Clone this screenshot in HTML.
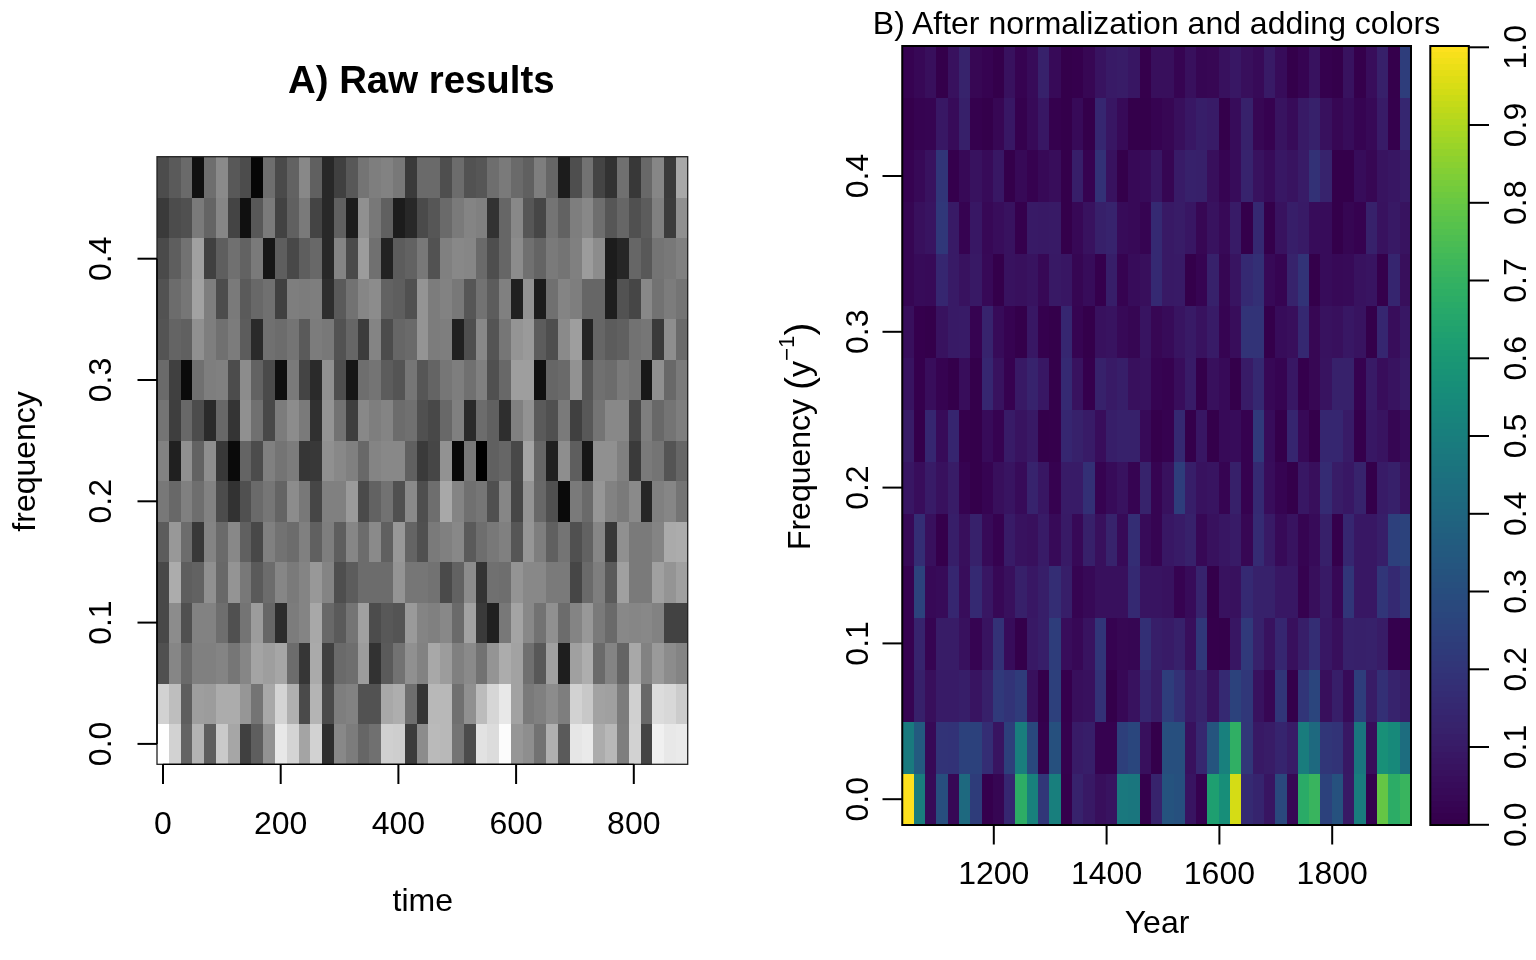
<!DOCTYPE html>
<html lang="en"><head><meta charset="utf-8"><title>Spectrogram panels</title>
<style>html,body{margin:0;padding:0;background:#fff}body{width:1536px;height:960px;overflow:hidden}svg{display:block}text{font-family:"Liberation Sans",Arial,Helvetica,sans-serif;fill:#000}</style>
</head><body>
<svg width="1536" height="960" viewBox="0 0 1536 960">
<rect width="1536" height="960" fill="#fff"/>
<g shape-rendering="crispEdges">
<rect x="157.10" y="157.10" width="12.39" height="41.11" fill="#4c4c4c"/>
<rect x="168.89" y="157.10" width="12.39" height="41.11" fill="#5a5a5a"/>
<rect x="180.69" y="157.10" width="12.39" height="41.11" fill="#6a6a6a"/>
<rect x="192.48" y="157.10" width="12.39" height="41.11" fill="#101010"/>
<rect x="204.27" y="157.10" width="12.39" height="41.11" fill="#6e6e6e"/>
<rect x="216.07" y="157.10" width="12.39" height="41.11" fill="#8a8a8a"/>
<rect x="227.86" y="157.10" width="12.39" height="41.11" fill="#585858"/>
<rect x="239.65" y="157.10" width="12.39" height="41.11" fill="#4c4c4c"/>
<rect x="251.45" y="157.10" width="12.39" height="41.11" fill="#060606"/>
<rect x="263.24" y="157.10" width="12.39" height="41.11" fill="#6e6e6e"/>
<rect x="275.03" y="157.10" width="12.39" height="41.11" fill="#4a4a4a"/>
<rect x="286.83" y="157.10" width="12.39" height="41.11" fill="#626262"/>
<rect x="298.62" y="157.10" width="12.39" height="41.11" fill="#888888"/>
<rect x="310.41" y="157.10" width="12.39" height="41.11" fill="#606060"/>
<rect x="322.21" y="157.10" width="12.39" height="41.11" fill="#282828"/>
<rect x="334.00" y="157.10" width="12.39" height="41.11" fill="#404040"/>
<rect x="345.79" y="157.10" width="12.39" height="41.11" fill="#585858"/>
<rect x="357.59" y="157.10" width="12.39" height="41.11" fill="#747474"/>
<rect x="369.38" y="157.10" width="12.39" height="41.11" fill="#7e7e7e"/>
<rect x="381.17" y="157.10" width="12.39" height="41.11" fill="#828282"/>
<rect x="392.97" y="157.10" width="12.39" height="41.11" fill="#787878"/>
<rect x="404.76" y="157.10" width="12.39" height="41.11" fill="#3a3a3a"/>
<rect x="416.55" y="157.10" width="12.39" height="41.11" fill="#6a6a6a"/>
<rect x="428.35" y="157.10" width="12.39" height="41.11" fill="#6a6a6a"/>
<rect x="440.14" y="157.10" width="12.39" height="41.11" fill="#4e4e4e"/>
<rect x="451.93" y="157.10" width="12.39" height="41.11" fill="#6c6c6c"/>
<rect x="463.73" y="157.10" width="12.39" height="41.11" fill="#525252"/>
<rect x="475.52" y="157.10" width="12.39" height="41.11" fill="#565656"/>
<rect x="487.31" y="157.10" width="12.39" height="41.11" fill="#6e6e6e"/>
<rect x="499.11" y="157.10" width="12.39" height="41.11" fill="#7a7a7a"/>
<rect x="510.90" y="157.10" width="12.39" height="41.11" fill="#6a6a6a"/>
<rect x="522.69" y="157.10" width="12.39" height="41.11" fill="#606060"/>
<rect x="534.49" y="157.10" width="12.39" height="41.11" fill="#7e7e7e"/>
<rect x="546.28" y="157.10" width="12.39" height="41.11" fill="#666666"/>
<rect x="558.07" y="157.10" width="12.39" height="41.11" fill="#1c1c1c"/>
<rect x="569.87" y="157.10" width="12.39" height="41.11" fill="#4e4e4e"/>
<rect x="581.66" y="157.10" width="12.39" height="41.11" fill="#727272"/>
<rect x="593.45" y="157.10" width="12.39" height="41.11" fill="#444444"/>
<rect x="605.25" y="157.10" width="12.39" height="41.11" fill="#323232"/>
<rect x="617.04" y="157.10" width="12.39" height="41.11" fill="#707070"/>
<rect x="628.83" y="157.10" width="12.39" height="41.11" fill="#383838"/>
<rect x="640.63" y="157.10" width="12.39" height="41.11" fill="#686868"/>
<rect x="652.42" y="157.10" width="12.39" height="41.11" fill="#868686"/>
<rect x="664.21" y="157.10" width="12.39" height="41.11" fill="#3a3a3a"/>
<rect x="676.01" y="157.10" width="12.39" height="41.11" fill="#a8a8a8"/>
<rect x="157.10" y="197.61" width="12.39" height="41.11" fill="#3a3a3a"/>
<rect x="168.89" y="197.61" width="12.39" height="41.11" fill="#4c4c4c"/>
<rect x="180.69" y="197.61" width="12.39" height="41.11" fill="#505050"/>
<rect x="192.48" y="197.61" width="12.39" height="41.11" fill="#7a7a7a"/>
<rect x="204.27" y="197.61" width="12.39" height="41.11" fill="#646464"/>
<rect x="216.07" y="197.61" width="12.39" height="41.11" fill="#868686"/>
<rect x="227.86" y="197.61" width="12.39" height="41.11" fill="#444444"/>
<rect x="239.65" y="197.61" width="12.39" height="41.11" fill="#101010"/>
<rect x="251.45" y="197.61" width="12.39" height="41.11" fill="#585858"/>
<rect x="263.24" y="197.61" width="12.39" height="41.11" fill="#7a7a7a"/>
<rect x="275.03" y="197.61" width="12.39" height="41.11" fill="#424242"/>
<rect x="286.83" y="197.61" width="12.39" height="41.11" fill="#606060"/>
<rect x="298.62" y="197.61" width="12.39" height="41.11" fill="#7a7a7a"/>
<rect x="310.41" y="197.61" width="12.39" height="41.11" fill="#444444"/>
<rect x="322.21" y="197.61" width="12.39" height="41.11" fill="#282828"/>
<rect x="334.00" y="197.61" width="12.39" height="41.11" fill="#606060"/>
<rect x="345.79" y="197.61" width="12.39" height="41.11" fill="#1c1c1c"/>
<rect x="357.59" y="197.61" width="12.39" height="41.11" fill="#909090"/>
<rect x="369.38" y="197.61" width="12.39" height="41.11" fill="#787878"/>
<rect x="381.17" y="197.61" width="12.39" height="41.11" fill="#606060"/>
<rect x="392.97" y="197.61" width="12.39" height="41.11" fill="#1c1c1c"/>
<rect x="404.76" y="197.61" width="12.39" height="41.11" fill="#282828"/>
<rect x="416.55" y="197.61" width="12.39" height="41.11" fill="#4a4a4a"/>
<rect x="428.35" y="197.61" width="12.39" height="41.11" fill="#565656"/>
<rect x="440.14" y="197.61" width="12.39" height="41.11" fill="#6a6a6a"/>
<rect x="451.93" y="197.61" width="12.39" height="41.11" fill="#7a7a7a"/>
<rect x="463.73" y="197.61" width="12.39" height="41.11" fill="#848484"/>
<rect x="475.52" y="197.61" width="12.39" height="41.11" fill="#808080"/>
<rect x="487.31" y="197.61" width="12.39" height="41.11" fill="#323232"/>
<rect x="499.11" y="197.61" width="12.39" height="41.11" fill="#666666"/>
<rect x="510.90" y="197.61" width="12.39" height="41.11" fill="#888888"/>
<rect x="522.69" y="197.61" width="12.39" height="41.11" fill="#565656"/>
<rect x="534.49" y="197.61" width="12.39" height="41.11" fill="#464646"/>
<rect x="546.28" y="197.61" width="12.39" height="41.11" fill="#747474"/>
<rect x="558.07" y="197.61" width="12.39" height="41.11" fill="#626262"/>
<rect x="569.87" y="197.61" width="12.39" height="41.11" fill="#7e7e7e"/>
<rect x="581.66" y="197.61" width="12.39" height="41.11" fill="#888888"/>
<rect x="593.45" y="197.61" width="12.39" height="41.11" fill="#6e6e6e"/>
<rect x="605.25" y="197.61" width="12.39" height="41.11" fill="#565656"/>
<rect x="617.04" y="197.61" width="12.39" height="41.11" fill="#666666"/>
<rect x="628.83" y="197.61" width="12.39" height="41.11" fill="#505050"/>
<rect x="640.63" y="197.61" width="12.39" height="41.11" fill="#5c5c5c"/>
<rect x="652.42" y="197.61" width="12.39" height="41.11" fill="#808080"/>
<rect x="664.21" y="197.61" width="12.39" height="41.11" fill="#3c3c3c"/>
<rect x="676.01" y="197.61" width="12.39" height="41.11" fill="#909090"/>
<rect x="157.10" y="238.11" width="12.39" height="41.11" fill="#4a4a4a"/>
<rect x="168.89" y="238.11" width="12.39" height="41.11" fill="#5e5e5e"/>
<rect x="180.69" y="238.11" width="12.39" height="41.11" fill="#727272"/>
<rect x="192.48" y="238.11" width="12.39" height="41.11" fill="#a0a0a0"/>
<rect x="204.27" y="238.11" width="12.39" height="41.11" fill="#404040"/>
<rect x="216.07" y="238.11" width="12.39" height="41.11" fill="#5e5e5e"/>
<rect x="227.86" y="238.11" width="12.39" height="41.11" fill="#707070"/>
<rect x="239.65" y="238.11" width="12.39" height="41.11" fill="#626262"/>
<rect x="251.45" y="238.11" width="12.39" height="41.11" fill="#7a7a7a"/>
<rect x="263.24" y="238.11" width="12.39" height="41.11" fill="#161616"/>
<rect x="275.03" y="238.11" width="12.39" height="41.11" fill="#5e5e5e"/>
<rect x="286.83" y="238.11" width="12.39" height="41.11" fill="#484848"/>
<rect x="298.62" y="238.11" width="12.39" height="41.11" fill="#5e5e5e"/>
<rect x="310.41" y="238.11" width="12.39" height="41.11" fill="#686868"/>
<rect x="322.21" y="238.11" width="12.39" height="41.11" fill="#282828"/>
<rect x="334.00" y="238.11" width="12.39" height="41.11" fill="#848484"/>
<rect x="345.79" y="238.11" width="12.39" height="41.11" fill="#4a4a4a"/>
<rect x="357.59" y="238.11" width="12.39" height="41.11" fill="#9c9c9c"/>
<rect x="369.38" y="238.11" width="12.39" height="41.11" fill="#707070"/>
<rect x="381.17" y="238.11" width="12.39" height="41.11" fill="#222222"/>
<rect x="392.97" y="238.11" width="12.39" height="41.11" fill="#5c5c5c"/>
<rect x="404.76" y="238.11" width="12.39" height="41.11" fill="#626262"/>
<rect x="416.55" y="238.11" width="12.39" height="41.11" fill="#787878"/>
<rect x="428.35" y="238.11" width="12.39" height="41.11" fill="#525252"/>
<rect x="440.14" y="238.11" width="12.39" height="41.11" fill="#808080"/>
<rect x="451.93" y="238.11" width="12.39" height="41.11" fill="#888888"/>
<rect x="463.73" y="238.11" width="12.39" height="41.11" fill="#868686"/>
<rect x="475.52" y="238.11" width="12.39" height="41.11" fill="#6a6a6a"/>
<rect x="487.31" y="238.11" width="12.39" height="41.11" fill="#4e4e4e"/>
<rect x="499.11" y="238.11" width="12.39" height="41.11" fill="#666666"/>
<rect x="510.90" y="238.11" width="12.39" height="41.11" fill="#8c8c8c"/>
<rect x="522.69" y="238.11" width="12.39" height="41.11" fill="#707070"/>
<rect x="534.49" y="238.11" width="12.39" height="41.11" fill="#646464"/>
<rect x="546.28" y="238.11" width="12.39" height="41.11" fill="#7a7a7a"/>
<rect x="558.07" y="238.11" width="12.39" height="41.11" fill="#747474"/>
<rect x="569.87" y="238.11" width="12.39" height="41.11" fill="#808080"/>
<rect x="581.66" y="238.11" width="12.39" height="41.11" fill="#9c9c9c"/>
<rect x="593.45" y="238.11" width="12.39" height="41.11" fill="#8c8c8c"/>
<rect x="605.25" y="238.11" width="12.39" height="41.11" fill="#1c1c1c"/>
<rect x="617.04" y="238.11" width="12.39" height="41.11" fill="#262626"/>
<rect x="628.83" y="238.11" width="12.39" height="41.11" fill="#666666"/>
<rect x="640.63" y="238.11" width="12.39" height="41.11" fill="#585858"/>
<rect x="652.42" y="238.11" width="12.39" height="41.11" fill="#747474"/>
<rect x="664.21" y="238.11" width="12.39" height="41.11" fill="#787878"/>
<rect x="676.01" y="238.11" width="12.39" height="41.11" fill="#808080"/>
<rect x="157.10" y="278.62" width="12.39" height="41.11" fill="#525252"/>
<rect x="168.89" y="278.62" width="12.39" height="41.11" fill="#6c6c6c"/>
<rect x="180.69" y="278.62" width="12.39" height="41.11" fill="#767676"/>
<rect x="192.48" y="278.62" width="12.39" height="41.11" fill="#a2a2a2"/>
<rect x="204.27" y="278.62" width="12.39" height="41.11" fill="#7e7e7e"/>
<rect x="216.07" y="278.62" width="12.39" height="41.11" fill="#4c4c4c"/>
<rect x="227.86" y="278.62" width="12.39" height="41.11" fill="#7a7a7a"/>
<rect x="239.65" y="278.62" width="12.39" height="41.11" fill="#5a5a5a"/>
<rect x="251.45" y="278.62" width="12.39" height="41.11" fill="#686868"/>
<rect x="263.24" y="278.62" width="12.39" height="41.11" fill="#707070"/>
<rect x="275.03" y="278.62" width="12.39" height="41.11" fill="#404040"/>
<rect x="286.83" y="278.62" width="12.39" height="41.11" fill="#7e7e7e"/>
<rect x="298.62" y="278.62" width="12.39" height="41.11" fill="#7c7c7c"/>
<rect x="310.41" y="278.62" width="12.39" height="41.11" fill="#7e7e7e"/>
<rect x="322.21" y="278.62" width="12.39" height="41.11" fill="#2e2e2e"/>
<rect x="334.00" y="278.62" width="12.39" height="41.11" fill="#5a5a5a"/>
<rect x="345.79" y="278.62" width="12.39" height="41.11" fill="#727272"/>
<rect x="357.59" y="278.62" width="12.39" height="41.11" fill="#868686"/>
<rect x="369.38" y="278.62" width="12.39" height="41.11" fill="#8c8c8c"/>
<rect x="381.17" y="278.62" width="12.39" height="41.11" fill="#626262"/>
<rect x="392.97" y="278.62" width="12.39" height="41.11" fill="#5e5e5e"/>
<rect x="404.76" y="278.62" width="12.39" height="41.11" fill="#505050"/>
<rect x="416.55" y="278.62" width="12.39" height="41.11" fill="#949494"/>
<rect x="428.35" y="278.62" width="12.39" height="41.11" fill="#7c7c7c"/>
<rect x="440.14" y="278.62" width="12.39" height="41.11" fill="#828282"/>
<rect x="451.93" y="278.62" width="12.39" height="41.11" fill="#787878"/>
<rect x="463.73" y="278.62" width="12.39" height="41.11" fill="#565656"/>
<rect x="475.52" y="278.62" width="12.39" height="41.11" fill="#727272"/>
<rect x="487.31" y="278.62" width="12.39" height="41.11" fill="#5c5c5c"/>
<rect x="499.11" y="278.62" width="12.39" height="41.11" fill="#808080"/>
<rect x="510.90" y="278.62" width="12.39" height="41.11" fill="#202020"/>
<rect x="522.69" y="278.62" width="12.39" height="41.11" fill="#929292"/>
<rect x="534.49" y="278.62" width="12.39" height="41.11" fill="#1c1c1c"/>
<rect x="546.28" y="278.62" width="12.39" height="41.11" fill="#707070"/>
<rect x="558.07" y="278.62" width="12.39" height="41.11" fill="#848484"/>
<rect x="569.87" y="278.62" width="12.39" height="41.11" fill="#7e7e7e"/>
<rect x="581.66" y="278.62" width="12.39" height="41.11" fill="#666666"/>
<rect x="593.45" y="278.62" width="12.39" height="41.11" fill="#666666"/>
<rect x="605.25" y="278.62" width="12.39" height="41.11" fill="#1e1e1e"/>
<rect x="617.04" y="278.62" width="12.39" height="41.11" fill="#525252"/>
<rect x="628.83" y="278.62" width="12.39" height="41.11" fill="#464646"/>
<rect x="640.63" y="278.62" width="12.39" height="41.11" fill="#888888"/>
<rect x="652.42" y="278.62" width="12.39" height="41.11" fill="#727272"/>
<rect x="664.21" y="278.62" width="12.39" height="41.11" fill="#7c7c7c"/>
<rect x="676.01" y="278.62" width="12.39" height="41.11" fill="#747474"/>
<rect x="157.10" y="319.13" width="12.39" height="41.11" fill="#545454"/>
<rect x="168.89" y="319.13" width="12.39" height="41.11" fill="#646464"/>
<rect x="180.69" y="319.13" width="12.39" height="41.11" fill="#606060"/>
<rect x="192.48" y="319.13" width="12.39" height="41.11" fill="#909090"/>
<rect x="204.27" y="319.13" width="12.39" height="41.11" fill="#7e7e7e"/>
<rect x="216.07" y="319.13" width="12.39" height="41.11" fill="#707070"/>
<rect x="227.86" y="319.13" width="12.39" height="41.11" fill="#7c7c7c"/>
<rect x="239.65" y="319.13" width="12.39" height="41.11" fill="#5c5c5c"/>
<rect x="251.45" y="319.13" width="12.39" height="41.11" fill="#2a2a2a"/>
<rect x="263.24" y="319.13" width="12.39" height="41.11" fill="#707070"/>
<rect x="275.03" y="319.13" width="12.39" height="41.11" fill="#6c6c6c"/>
<rect x="286.83" y="319.13" width="12.39" height="41.11" fill="#747474"/>
<rect x="298.62" y="319.13" width="12.39" height="41.11" fill="#5a5a5a"/>
<rect x="310.41" y="319.13" width="12.39" height="41.11" fill="#7c7c7c"/>
<rect x="322.21" y="319.13" width="12.39" height="41.11" fill="#787878"/>
<rect x="334.00" y="319.13" width="12.39" height="41.11" fill="#525252"/>
<rect x="345.79" y="319.13" width="12.39" height="41.11" fill="#666666"/>
<rect x="357.59" y="319.13" width="12.39" height="41.11" fill="#3c3c3c"/>
<rect x="369.38" y="319.13" width="12.39" height="41.11" fill="#848484"/>
<rect x="381.17" y="319.13" width="12.39" height="41.11" fill="#4c4c4c"/>
<rect x="392.97" y="319.13" width="12.39" height="41.11" fill="#666666"/>
<rect x="404.76" y="319.13" width="12.39" height="41.11" fill="#6a6a6a"/>
<rect x="416.55" y="319.13" width="12.39" height="41.11" fill="#949494"/>
<rect x="428.35" y="319.13" width="12.39" height="41.11" fill="#7c7c7c"/>
<rect x="440.14" y="319.13" width="12.39" height="41.11" fill="#7e7e7e"/>
<rect x="451.93" y="319.13" width="12.39" height="41.11" fill="#202020"/>
<rect x="463.73" y="319.13" width="12.39" height="41.11" fill="#4e4e4e"/>
<rect x="475.52" y="319.13" width="12.39" height="41.11" fill="#888888"/>
<rect x="487.31" y="319.13" width="12.39" height="41.11" fill="#545454"/>
<rect x="499.11" y="319.13" width="12.39" height="41.11" fill="#767676"/>
<rect x="510.90" y="319.13" width="12.39" height="41.11" fill="#949494"/>
<rect x="522.69" y="319.13" width="12.39" height="41.11" fill="#9a9a9a"/>
<rect x="534.49" y="319.13" width="12.39" height="41.11" fill="#5c5c5c"/>
<rect x="546.28" y="319.13" width="12.39" height="41.11" fill="#4e4e4e"/>
<rect x="558.07" y="319.13" width="12.39" height="41.11" fill="#8a8a8a"/>
<rect x="569.87" y="319.13" width="12.39" height="41.11" fill="#9e9e9e"/>
<rect x="581.66" y="319.13" width="12.39" height="41.11" fill="#242424"/>
<rect x="593.45" y="319.13" width="12.39" height="41.11" fill="#666666"/>
<rect x="605.25" y="319.13" width="12.39" height="41.11" fill="#5c5c5c"/>
<rect x="617.04" y="319.13" width="12.39" height="41.11" fill="#606060"/>
<rect x="628.83" y="319.13" width="12.39" height="41.11" fill="#727272"/>
<rect x="640.63" y="319.13" width="12.39" height="41.11" fill="#767676"/>
<rect x="652.42" y="319.13" width="12.39" height="41.11" fill="#3a3a3a"/>
<rect x="664.21" y="319.13" width="12.39" height="41.11" fill="#8e8e8e"/>
<rect x="676.01" y="319.13" width="12.39" height="41.11" fill="#6a6a6a"/>
<rect x="157.10" y="359.63" width="12.39" height="41.11" fill="#6a6a6a"/>
<rect x="168.89" y="359.63" width="12.39" height="41.11" fill="#404040"/>
<rect x="180.69" y="359.63" width="12.39" height="41.11" fill="#0a0a0a"/>
<rect x="192.48" y="359.63" width="12.39" height="41.11" fill="#707070"/>
<rect x="204.27" y="359.63" width="12.39" height="41.11" fill="#7e7e7e"/>
<rect x="216.07" y="359.63" width="12.39" height="41.11" fill="#808080"/>
<rect x="227.86" y="359.63" width="12.39" height="41.11" fill="#4c4c4c"/>
<rect x="239.65" y="359.63" width="12.39" height="41.11" fill="#8c8c8c"/>
<rect x="251.45" y="359.63" width="12.39" height="41.11" fill="#626262"/>
<rect x="263.24" y="359.63" width="12.39" height="41.11" fill="#4a4a4a"/>
<rect x="275.03" y="359.63" width="12.39" height="41.11" fill="#0e0e0e"/>
<rect x="286.83" y="359.63" width="12.39" height="41.11" fill="#7a7a7a"/>
<rect x="298.62" y="359.63" width="12.39" height="41.11" fill="#444444"/>
<rect x="310.41" y="359.63" width="12.39" height="41.11" fill="#2a2a2a"/>
<rect x="322.21" y="359.63" width="12.39" height="41.11" fill="#909090"/>
<rect x="334.00" y="359.63" width="12.39" height="41.11" fill="#4e4e4e"/>
<rect x="345.79" y="359.63" width="12.39" height="41.11" fill="#161616"/>
<rect x="357.59" y="359.63" width="12.39" height="41.11" fill="#6e6e6e"/>
<rect x="369.38" y="359.63" width="12.39" height="41.11" fill="#747474"/>
<rect x="381.17" y="359.63" width="12.39" height="41.11" fill="#5c5c5c"/>
<rect x="392.97" y="359.63" width="12.39" height="41.11" fill="#545454"/>
<rect x="404.76" y="359.63" width="12.39" height="41.11" fill="#767676"/>
<rect x="416.55" y="359.63" width="12.39" height="41.11" fill="#565656"/>
<rect x="428.35" y="359.63" width="12.39" height="41.11" fill="#646464"/>
<rect x="440.14" y="359.63" width="12.39" height="41.11" fill="#767676"/>
<rect x="451.93" y="359.63" width="12.39" height="41.11" fill="#7e7e7e"/>
<rect x="463.73" y="359.63" width="12.39" height="41.11" fill="#707070"/>
<rect x="475.52" y="359.63" width="12.39" height="41.11" fill="#808080"/>
<rect x="487.31" y="359.63" width="12.39" height="41.11" fill="#505050"/>
<rect x="499.11" y="359.63" width="12.39" height="41.11" fill="#686868"/>
<rect x="510.90" y="359.63" width="12.39" height="41.11" fill="#9e9e9e"/>
<rect x="522.69" y="359.63" width="12.39" height="41.11" fill="#9e9e9e"/>
<rect x="534.49" y="359.63" width="12.39" height="41.11" fill="#101010"/>
<rect x="546.28" y="359.63" width="12.39" height="41.11" fill="#666666"/>
<rect x="558.07" y="359.63" width="12.39" height="41.11" fill="#6a6a6a"/>
<rect x="569.87" y="359.63" width="12.39" height="41.11" fill="#929292"/>
<rect x="581.66" y="359.63" width="12.39" height="41.11" fill="#565656"/>
<rect x="593.45" y="359.63" width="12.39" height="41.11" fill="#707070"/>
<rect x="605.25" y="359.63" width="12.39" height="41.11" fill="#6c6c6c"/>
<rect x="617.04" y="359.63" width="12.39" height="41.11" fill="#7a7a7a"/>
<rect x="628.83" y="359.63" width="12.39" height="41.11" fill="#747474"/>
<rect x="640.63" y="359.63" width="12.39" height="41.11" fill="#181818"/>
<rect x="652.42" y="359.63" width="12.39" height="41.11" fill="#909090"/>
<rect x="664.21" y="359.63" width="12.39" height="41.11" fill="#686868"/>
<rect x="676.01" y="359.63" width="12.39" height="41.11" fill="#7a7a7a"/>
<rect x="157.10" y="400.14" width="12.39" height="41.11" fill="#747474"/>
<rect x="168.89" y="400.14" width="12.39" height="41.11" fill="#3e3e3e"/>
<rect x="180.69" y="400.14" width="12.39" height="41.11" fill="#686868"/>
<rect x="192.48" y="400.14" width="12.39" height="41.11" fill="#4c4c4c"/>
<rect x="204.27" y="400.14" width="12.39" height="41.11" fill="#2a2a2a"/>
<rect x="216.07" y="400.14" width="12.39" height="41.11" fill="#686868"/>
<rect x="227.86" y="400.14" width="12.39" height="41.11" fill="#343434"/>
<rect x="239.65" y="400.14" width="12.39" height="41.11" fill="#909090"/>
<rect x="251.45" y="400.14" width="12.39" height="41.11" fill="#707070"/>
<rect x="263.24" y="400.14" width="12.39" height="41.11" fill="#484848"/>
<rect x="275.03" y="400.14" width="12.39" height="41.11" fill="#7c7c7c"/>
<rect x="286.83" y="400.14" width="12.39" height="41.11" fill="#8c8c8c"/>
<rect x="298.62" y="400.14" width="12.39" height="41.11" fill="#7a7a7a"/>
<rect x="310.41" y="400.14" width="12.39" height="41.11" fill="#303030"/>
<rect x="322.21" y="400.14" width="12.39" height="41.11" fill="#949494"/>
<rect x="334.00" y="400.14" width="12.39" height="41.11" fill="#727272"/>
<rect x="345.79" y="400.14" width="12.39" height="41.11" fill="#3e3e3e"/>
<rect x="357.59" y="400.14" width="12.39" height="41.11" fill="#888888"/>
<rect x="369.38" y="400.14" width="12.39" height="41.11" fill="#7e7e7e"/>
<rect x="381.17" y="400.14" width="12.39" height="41.11" fill="#848484"/>
<rect x="392.97" y="400.14" width="12.39" height="41.11" fill="#6c6c6c"/>
<rect x="404.76" y="400.14" width="12.39" height="41.11" fill="#707070"/>
<rect x="416.55" y="400.14" width="12.39" height="41.11" fill="#505050"/>
<rect x="428.35" y="400.14" width="12.39" height="41.11" fill="#484848"/>
<rect x="440.14" y="400.14" width="12.39" height="41.11" fill="#686868"/>
<rect x="451.93" y="400.14" width="12.39" height="41.11" fill="#808080"/>
<rect x="463.73" y="400.14" width="12.39" height="41.11" fill="#2a2a2a"/>
<rect x="475.52" y="400.14" width="12.39" height="41.11" fill="#6c6c6c"/>
<rect x="487.31" y="400.14" width="12.39" height="41.11" fill="#606060"/>
<rect x="499.11" y="400.14" width="12.39" height="41.11" fill="#2e2e2e"/>
<rect x="510.90" y="400.14" width="12.39" height="41.11" fill="#808080"/>
<rect x="522.69" y="400.14" width="12.39" height="41.11" fill="#929292"/>
<rect x="534.49" y="400.14" width="12.39" height="41.11" fill="#5a5a5a"/>
<rect x="546.28" y="400.14" width="12.39" height="41.11" fill="#505050"/>
<rect x="558.07" y="400.14" width="12.39" height="41.11" fill="#7a7a7a"/>
<rect x="569.87" y="400.14" width="12.39" height="41.11" fill="#404040"/>
<rect x="581.66" y="400.14" width="12.39" height="41.11" fill="#585858"/>
<rect x="593.45" y="400.14" width="12.39" height="41.11" fill="#747474"/>
<rect x="605.25" y="400.14" width="12.39" height="41.11" fill="#888888"/>
<rect x="617.04" y="400.14" width="12.39" height="41.11" fill="#888888"/>
<rect x="628.83" y="400.14" width="12.39" height="41.11" fill="#484848"/>
<rect x="640.63" y="400.14" width="12.39" height="41.11" fill="#7e7e7e"/>
<rect x="652.42" y="400.14" width="12.39" height="41.11" fill="#686868"/>
<rect x="664.21" y="400.14" width="12.39" height="41.11" fill="#747474"/>
<rect x="676.01" y="400.14" width="12.39" height="41.11" fill="#7e7e7e"/>
<rect x="157.10" y="440.65" width="12.39" height="41.11" fill="#828282"/>
<rect x="168.89" y="440.65" width="12.39" height="41.11" fill="#202020"/>
<rect x="180.69" y="440.65" width="12.39" height="41.11" fill="#909090"/>
<rect x="192.48" y="440.65" width="12.39" height="41.11" fill="#626262"/>
<rect x="204.27" y="440.65" width="12.39" height="41.11" fill="#8e8e8e"/>
<rect x="216.07" y="440.65" width="12.39" height="41.11" fill="#383838"/>
<rect x="227.86" y="440.65" width="12.39" height="41.11" fill="#0a0a0a"/>
<rect x="239.65" y="440.65" width="12.39" height="41.11" fill="#646464"/>
<rect x="251.45" y="440.65" width="12.39" height="41.11" fill="#4c4c4c"/>
<rect x="263.24" y="440.65" width="12.39" height="41.11" fill="#808080"/>
<rect x="275.03" y="440.65" width="12.39" height="41.11" fill="#747474"/>
<rect x="286.83" y="440.65" width="12.39" height="41.11" fill="#7c7c7c"/>
<rect x="298.62" y="440.65" width="12.39" height="41.11" fill="#363636"/>
<rect x="310.41" y="440.65" width="12.39" height="41.11" fill="#383838"/>
<rect x="322.21" y="440.65" width="12.39" height="41.11" fill="#909090"/>
<rect x="334.00" y="440.65" width="12.39" height="41.11" fill="#888888"/>
<rect x="345.79" y="440.65" width="12.39" height="41.11" fill="#808080"/>
<rect x="357.59" y="440.65" width="12.39" height="41.11" fill="#686868"/>
<rect x="369.38" y="440.65" width="12.39" height="41.11" fill="#848484"/>
<rect x="381.17" y="440.65" width="12.39" height="41.11" fill="#888888"/>
<rect x="392.97" y="440.65" width="12.39" height="41.11" fill="#888888"/>
<rect x="404.76" y="440.65" width="12.39" height="41.11" fill="#606060"/>
<rect x="416.55" y="440.65" width="12.39" height="41.11" fill="#3a3a3a"/>
<rect x="428.35" y="440.65" width="12.39" height="41.11" fill="#464646"/>
<rect x="440.14" y="440.65" width="12.39" height="41.11" fill="#929292"/>
<rect x="451.93" y="440.65" width="12.39" height="41.11" fill="#080808"/>
<rect x="463.73" y="440.65" width="12.39" height="41.11" fill="#787878"/>
<rect x="475.52" y="440.65" width="12.39" height="41.11" fill="#000000"/>
<rect x="487.31" y="440.65" width="12.39" height="41.11" fill="#606060"/>
<rect x="499.11" y="440.65" width="12.39" height="41.11" fill="#666666"/>
<rect x="510.90" y="440.65" width="12.39" height="41.11" fill="#484848"/>
<rect x="522.69" y="440.65" width="12.39" height="41.11" fill="#a4a4a4"/>
<rect x="534.49" y="440.65" width="12.39" height="41.11" fill="#666666"/>
<rect x="546.28" y="440.65" width="12.39" height="41.11" fill="#202020"/>
<rect x="558.07" y="440.65" width="12.39" height="41.11" fill="#8e8e8e"/>
<rect x="569.87" y="440.65" width="12.39" height="41.11" fill="#5e5e5e"/>
<rect x="581.66" y="440.65" width="12.39" height="41.11" fill="#161616"/>
<rect x="593.45" y="440.65" width="12.39" height="41.11" fill="#909090"/>
<rect x="605.25" y="440.65" width="12.39" height="41.11" fill="#909090"/>
<rect x="617.04" y="440.65" width="12.39" height="41.11" fill="#808080"/>
<rect x="628.83" y="440.65" width="12.39" height="41.11" fill="#3a3a3a"/>
<rect x="640.63" y="440.65" width="12.39" height="41.11" fill="#7a7a7a"/>
<rect x="652.42" y="440.65" width="12.39" height="41.11" fill="#747474"/>
<rect x="664.21" y="440.65" width="12.39" height="41.11" fill="#545454"/>
<rect x="676.01" y="440.65" width="12.39" height="41.11" fill="#666666"/>
<rect x="157.10" y="481.15" width="12.39" height="41.11" fill="#787878"/>
<rect x="168.89" y="481.15" width="12.39" height="41.11" fill="#686868"/>
<rect x="180.69" y="481.15" width="12.39" height="41.11" fill="#808080"/>
<rect x="192.48" y="481.15" width="12.39" height="41.11" fill="#6e6e6e"/>
<rect x="204.27" y="481.15" width="12.39" height="41.11" fill="#828282"/>
<rect x="216.07" y="481.15" width="12.39" height="41.11" fill="#4c4c4c"/>
<rect x="227.86" y="481.15" width="12.39" height="41.11" fill="#323232"/>
<rect x="239.65" y="481.15" width="12.39" height="41.11" fill="#505050"/>
<rect x="251.45" y="481.15" width="12.39" height="41.11" fill="#6a6a6a"/>
<rect x="263.24" y="481.15" width="12.39" height="41.11" fill="#767676"/>
<rect x="275.03" y="481.15" width="12.39" height="41.11" fill="#646464"/>
<rect x="286.83" y="481.15" width="12.39" height="41.11" fill="#8c8c8c"/>
<rect x="298.62" y="481.15" width="12.39" height="41.11" fill="#787878"/>
<rect x="310.41" y="481.15" width="12.39" height="41.11" fill="#464646"/>
<rect x="322.21" y="481.15" width="12.39" height="41.11" fill="#808080"/>
<rect x="334.00" y="481.15" width="12.39" height="41.11" fill="#808080"/>
<rect x="345.79" y="481.15" width="12.39" height="41.11" fill="#9a9a9a"/>
<rect x="357.59" y="481.15" width="12.39" height="41.11" fill="#4a4a4a"/>
<rect x="369.38" y="481.15" width="12.39" height="41.11" fill="#626262"/>
<rect x="381.17" y="481.15" width="12.39" height="41.11" fill="#727272"/>
<rect x="392.97" y="481.15" width="12.39" height="41.11" fill="#505050"/>
<rect x="404.76" y="481.15" width="12.39" height="41.11" fill="#8a8a8a"/>
<rect x="416.55" y="481.15" width="12.39" height="41.11" fill="#4e4e4e"/>
<rect x="428.35" y="481.15" width="12.39" height="41.11" fill="#6e6e6e"/>
<rect x="440.14" y="481.15" width="12.39" height="41.11" fill="#a8a8a8"/>
<rect x="451.93" y="481.15" width="12.39" height="41.11" fill="#848484"/>
<rect x="463.73" y="481.15" width="12.39" height="41.11" fill="#707070"/>
<rect x="475.52" y="481.15" width="12.39" height="41.11" fill="#767676"/>
<rect x="487.31" y="481.15" width="12.39" height="41.11" fill="#505050"/>
<rect x="499.11" y="481.15" width="12.39" height="41.11" fill="#868686"/>
<rect x="510.90" y="481.15" width="12.39" height="41.11" fill="#464646"/>
<rect x="522.69" y="481.15" width="12.39" height="41.11" fill="#949494"/>
<rect x="534.49" y="481.15" width="12.39" height="41.11" fill="#686868"/>
<rect x="546.28" y="481.15" width="12.39" height="41.11" fill="#505050"/>
<rect x="558.07" y="481.15" width="12.39" height="41.11" fill="#0a0a0a"/>
<rect x="569.87" y="481.15" width="12.39" height="41.11" fill="#7a7a7a"/>
<rect x="581.66" y="481.15" width="12.39" height="41.11" fill="#6a6a6a"/>
<rect x="593.45" y="481.15" width="12.39" height="41.11" fill="#969696"/>
<rect x="605.25" y="481.15" width="12.39" height="41.11" fill="#828282"/>
<rect x="617.04" y="481.15" width="12.39" height="41.11" fill="#7a7a7a"/>
<rect x="628.83" y="481.15" width="12.39" height="41.11" fill="#8a8a8a"/>
<rect x="640.63" y="481.15" width="12.39" height="41.11" fill="#262626"/>
<rect x="652.42" y="481.15" width="12.39" height="41.11" fill="#808080"/>
<rect x="664.21" y="481.15" width="12.39" height="41.11" fill="#868686"/>
<rect x="676.01" y="481.15" width="12.39" height="41.11" fill="#747474"/>
<rect x="157.10" y="521.66" width="12.39" height="41.11" fill="#5c5c5c"/>
<rect x="168.89" y="521.66" width="12.39" height="41.11" fill="#989898"/>
<rect x="180.69" y="521.66" width="12.39" height="41.11" fill="#6c6c6c"/>
<rect x="192.48" y="521.66" width="12.39" height="41.11" fill="#383838"/>
<rect x="204.27" y="521.66" width="12.39" height="41.11" fill="#848484"/>
<rect x="216.07" y="521.66" width="12.39" height="41.11" fill="#6a6a6a"/>
<rect x="227.86" y="521.66" width="12.39" height="41.11" fill="#888888"/>
<rect x="239.65" y="521.66" width="12.39" height="41.11" fill="#606060"/>
<rect x="251.45" y="521.66" width="12.39" height="41.11" fill="#484848"/>
<rect x="263.24" y="521.66" width="12.39" height="41.11" fill="#808080"/>
<rect x="275.03" y="521.66" width="12.39" height="41.11" fill="#727272"/>
<rect x="286.83" y="521.66" width="12.39" height="41.11" fill="#6c6c6c"/>
<rect x="298.62" y="521.66" width="12.39" height="41.11" fill="#808080"/>
<rect x="310.41" y="521.66" width="12.39" height="41.11" fill="#606060"/>
<rect x="322.21" y="521.66" width="12.39" height="41.11" fill="#7e7e7e"/>
<rect x="334.00" y="521.66" width="12.39" height="41.11" fill="#5e5e5e"/>
<rect x="345.79" y="521.66" width="12.39" height="41.11" fill="#868686"/>
<rect x="357.59" y="521.66" width="12.39" height="41.11" fill="#6c6c6c"/>
<rect x="369.38" y="521.66" width="12.39" height="41.11" fill="#8a8a8a"/>
<rect x="381.17" y="521.66" width="12.39" height="41.11" fill="#606060"/>
<rect x="392.97" y="521.66" width="12.39" height="41.11" fill="#989898"/>
<rect x="404.76" y="521.66" width="12.39" height="41.11" fill="#646464"/>
<rect x="416.55" y="521.66" width="12.39" height="41.11" fill="#505050"/>
<rect x="428.35" y="521.66" width="12.39" height="41.11" fill="#7a7a7a"/>
<rect x="440.14" y="521.66" width="12.39" height="41.11" fill="#808080"/>
<rect x="451.93" y="521.66" width="12.39" height="41.11" fill="#888888"/>
<rect x="463.73" y="521.66" width="12.39" height="41.11" fill="#5a5a5a"/>
<rect x="475.52" y="521.66" width="12.39" height="41.11" fill="#6e6e6e"/>
<rect x="487.31" y="521.66" width="12.39" height="41.11" fill="#787878"/>
<rect x="499.11" y="521.66" width="12.39" height="41.11" fill="#808080"/>
<rect x="510.90" y="521.66" width="12.39" height="41.11" fill="#565656"/>
<rect x="522.69" y="521.66" width="12.39" height="41.11" fill="#969696"/>
<rect x="534.49" y="521.66" width="12.39" height="41.11" fill="#7e7e7e"/>
<rect x="546.28" y="521.66" width="12.39" height="41.11" fill="#606060"/>
<rect x="558.07" y="521.66" width="12.39" height="41.11" fill="#747474"/>
<rect x="569.87" y="521.66" width="12.39" height="41.11" fill="#505050"/>
<rect x="581.66" y="521.66" width="12.39" height="41.11" fill="#626262"/>
<rect x="593.45" y="521.66" width="12.39" height="41.11" fill="#868686"/>
<rect x="605.25" y="521.66" width="12.39" height="41.11" fill="#383838"/>
<rect x="617.04" y="521.66" width="12.39" height="41.11" fill="#909090"/>
<rect x="628.83" y="521.66" width="12.39" height="41.11" fill="#7a7a7a"/>
<rect x="640.63" y="521.66" width="12.39" height="41.11" fill="#7a7a7a"/>
<rect x="652.42" y="521.66" width="12.39" height="41.11" fill="#848484"/>
<rect x="664.21" y="521.66" width="12.39" height="41.11" fill="#aaaaaa"/>
<rect x="676.01" y="521.66" width="12.39" height="41.11" fill="#acacac"/>
<rect x="157.10" y="562.17" width="12.39" height="41.11" fill="#484848"/>
<rect x="168.89" y="562.17" width="12.39" height="41.11" fill="#acacac"/>
<rect x="180.69" y="562.17" width="12.39" height="41.11" fill="#5e5e5e"/>
<rect x="192.48" y="562.17" width="12.39" height="41.11" fill="#626262"/>
<rect x="204.27" y="562.17" width="12.39" height="41.11" fill="#909090"/>
<rect x="216.07" y="562.17" width="12.39" height="41.11" fill="#686868"/>
<rect x="227.86" y="562.17" width="12.39" height="41.11" fill="#949494"/>
<rect x="239.65" y="562.17" width="12.39" height="41.11" fill="#787878"/>
<rect x="251.45" y="562.17" width="12.39" height="41.11" fill="#5a5a5a"/>
<rect x="263.24" y="562.17" width="12.39" height="41.11" fill="#6c6c6c"/>
<rect x="275.03" y="562.17" width="12.39" height="41.11" fill="#868686"/>
<rect x="286.83" y="562.17" width="12.39" height="41.11" fill="#7a7a7a"/>
<rect x="298.62" y="562.17" width="12.39" height="41.11" fill="#848484"/>
<rect x="310.41" y="562.17" width="12.39" height="41.11" fill="#989898"/>
<rect x="322.21" y="562.17" width="12.39" height="41.11" fill="#848484"/>
<rect x="334.00" y="562.17" width="12.39" height="41.11" fill="#4e4e4e"/>
<rect x="345.79" y="562.17" width="12.39" height="41.11" fill="#5c5c5c"/>
<rect x="357.59" y="562.17" width="12.39" height="41.11" fill="#6c6c6c"/>
<rect x="369.38" y="562.17" width="12.39" height="41.11" fill="#6c6c6c"/>
<rect x="381.17" y="562.17" width="12.39" height="41.11" fill="#6c6c6c"/>
<rect x="392.97" y="562.17" width="12.39" height="41.11" fill="#949494"/>
<rect x="404.76" y="562.17" width="12.39" height="41.11" fill="#767676"/>
<rect x="416.55" y="562.17" width="12.39" height="41.11" fill="#767676"/>
<rect x="428.35" y="562.17" width="12.39" height="41.11" fill="#727272"/>
<rect x="440.14" y="562.17" width="12.39" height="41.11" fill="#4a4a4a"/>
<rect x="451.93" y="562.17" width="12.39" height="41.11" fill="#626262"/>
<rect x="463.73" y="562.17" width="12.39" height="41.11" fill="#8c8c8c"/>
<rect x="475.52" y="562.17" width="12.39" height="41.11" fill="#343434"/>
<rect x="487.31" y="562.17" width="12.39" height="41.11" fill="#707070"/>
<rect x="499.11" y="562.17" width="12.39" height="41.11" fill="#6e6e6e"/>
<rect x="510.90" y="562.17" width="12.39" height="41.11" fill="#949494"/>
<rect x="522.69" y="562.17" width="12.39" height="41.11" fill="#888888"/>
<rect x="534.49" y="562.17" width="12.39" height="41.11" fill="#888888"/>
<rect x="546.28" y="562.17" width="12.39" height="41.11" fill="#7a7a7a"/>
<rect x="558.07" y="562.17" width="12.39" height="41.11" fill="#7a7a7a"/>
<rect x="569.87" y="562.17" width="12.39" height="41.11" fill="#464646"/>
<rect x="581.66" y="562.17" width="12.39" height="41.11" fill="#6a6a6a"/>
<rect x="593.45" y="562.17" width="12.39" height="41.11" fill="#7e7e7e"/>
<rect x="605.25" y="562.17" width="12.39" height="41.11" fill="#5a5a5a"/>
<rect x="617.04" y="562.17" width="12.39" height="41.11" fill="#a0a0a0"/>
<rect x="628.83" y="562.17" width="12.39" height="41.11" fill="#7a7a7a"/>
<rect x="640.63" y="562.17" width="12.39" height="41.11" fill="#7a7a7a"/>
<rect x="652.42" y="562.17" width="12.39" height="41.11" fill="#a0a0a0"/>
<rect x="664.21" y="562.17" width="12.39" height="41.11" fill="#949494"/>
<rect x="676.01" y="562.17" width="12.39" height="41.11" fill="#a0a0a0"/>
<rect x="157.10" y="602.67" width="12.39" height="41.11" fill="#484848"/>
<rect x="168.89" y="602.67" width="12.39" height="41.11" fill="#8c8c8c"/>
<rect x="180.69" y="602.67" width="12.39" height="41.11" fill="#505050"/>
<rect x="192.48" y="602.67" width="12.39" height="41.11" fill="#828282"/>
<rect x="204.27" y="602.67" width="12.39" height="41.11" fill="#828282"/>
<rect x="216.07" y="602.67" width="12.39" height="41.11" fill="#6e6e6e"/>
<rect x="227.86" y="602.67" width="12.39" height="41.11" fill="#505050"/>
<rect x="239.65" y="602.67" width="12.39" height="41.11" fill="#747474"/>
<rect x="251.45" y="602.67" width="12.39" height="41.11" fill="#9c9c9c"/>
<rect x="263.24" y="602.67" width="12.39" height="41.11" fill="#666666"/>
<rect x="275.03" y="602.67" width="12.39" height="41.11" fill="#2c2c2c"/>
<rect x="286.83" y="602.67" width="12.39" height="41.11" fill="#7c7c7c"/>
<rect x="298.62" y="602.67" width="12.39" height="41.11" fill="#848484"/>
<rect x="310.41" y="602.67" width="12.39" height="41.11" fill="#a8a8a8"/>
<rect x="322.21" y="602.67" width="12.39" height="41.11" fill="#686868"/>
<rect x="334.00" y="602.67" width="12.39" height="41.11" fill="#5a5a5a"/>
<rect x="345.79" y="602.67" width="12.39" height="41.11" fill="#747474"/>
<rect x="357.59" y="602.67" width="12.39" height="41.11" fill="#a0a0a0"/>
<rect x="369.38" y="602.67" width="12.39" height="41.11" fill="#4c4c4c"/>
<rect x="381.17" y="602.67" width="12.39" height="41.11" fill="#585858"/>
<rect x="392.97" y="602.67" width="12.39" height="41.11" fill="#545454"/>
<rect x="404.76" y="602.67" width="12.39" height="41.11" fill="#9a9a9a"/>
<rect x="416.55" y="602.67" width="12.39" height="41.11" fill="#848484"/>
<rect x="428.35" y="602.67" width="12.39" height="41.11" fill="#808080"/>
<rect x="440.14" y="602.67" width="12.39" height="41.11" fill="#888888"/>
<rect x="451.93" y="602.67" width="12.39" height="41.11" fill="#6a6a6a"/>
<rect x="463.73" y="602.67" width="12.39" height="41.11" fill="#a2a2a2"/>
<rect x="475.52" y="602.67" width="12.39" height="41.11" fill="#3a3a3a"/>
<rect x="487.31" y="602.67" width="12.39" height="41.11" fill="#202020"/>
<rect x="499.11" y="602.67" width="12.39" height="41.11" fill="#787878"/>
<rect x="510.90" y="602.67" width="12.39" height="41.11" fill="#a4a4a4"/>
<rect x="522.69" y="602.67" width="12.39" height="41.11" fill="#888888"/>
<rect x="534.49" y="602.67" width="12.39" height="41.11" fill="#727272"/>
<rect x="546.28" y="602.67" width="12.39" height="41.11" fill="#909090"/>
<rect x="558.07" y="602.67" width="12.39" height="41.11" fill="#6c6c6c"/>
<rect x="569.87" y="602.67" width="12.39" height="41.11" fill="#848484"/>
<rect x="581.66" y="602.67" width="12.39" height="41.11" fill="#989898"/>
<rect x="593.45" y="602.67" width="12.39" height="41.11" fill="#7a7a7a"/>
<rect x="605.25" y="602.67" width="12.39" height="41.11" fill="#6a6a6a"/>
<rect x="617.04" y="602.67" width="12.39" height="41.11" fill="#888888"/>
<rect x="628.83" y="602.67" width="12.39" height="41.11" fill="#868686"/>
<rect x="640.63" y="602.67" width="12.39" height="41.11" fill="#888888"/>
<rect x="652.42" y="602.67" width="12.39" height="41.11" fill="#828282"/>
<rect x="664.21" y="602.67" width="12.39" height="41.11" fill="#424242"/>
<rect x="676.01" y="602.67" width="12.39" height="41.11" fill="#424242"/>
<rect x="157.10" y="643.18" width="12.39" height="41.11" fill="#505050"/>
<rect x="168.89" y="643.18" width="12.39" height="41.11" fill="#868686"/>
<rect x="180.69" y="643.18" width="12.39" height="41.11" fill="#6a6a6a"/>
<rect x="192.48" y="643.18" width="12.39" height="41.11" fill="#808080"/>
<rect x="204.27" y="643.18" width="12.39" height="41.11" fill="#808080"/>
<rect x="216.07" y="643.18" width="12.39" height="41.11" fill="#848484"/>
<rect x="227.86" y="643.18" width="12.39" height="41.11" fill="#767676"/>
<rect x="239.65" y="643.18" width="12.39" height="41.11" fill="#868686"/>
<rect x="251.45" y="643.18" width="12.39" height="41.11" fill="#a4a4a4"/>
<rect x="263.24" y="643.18" width="12.39" height="41.11" fill="#9e9e9e"/>
<rect x="275.03" y="643.18" width="12.39" height="41.11" fill="#a6a6a6"/>
<rect x="286.83" y="643.18" width="12.39" height="41.11" fill="#6c6c6c"/>
<rect x="298.62" y="643.18" width="12.39" height="41.11" fill="#363636"/>
<rect x="310.41" y="643.18" width="12.39" height="41.11" fill="#aaaaaa"/>
<rect x="322.21" y="643.18" width="12.39" height="41.11" fill="#404040"/>
<rect x="334.00" y="643.18" width="12.39" height="41.11" fill="#6a6a6a"/>
<rect x="345.79" y="643.18" width="12.39" height="41.11" fill="#6e6e6e"/>
<rect x="357.59" y="643.18" width="12.39" height="41.11" fill="#9c9c9c"/>
<rect x="369.38" y="643.18" width="12.39" height="41.11" fill="#323232"/>
<rect x="381.17" y="643.18" width="12.39" height="41.11" fill="#5a5a5a"/>
<rect x="392.97" y="643.18" width="12.39" height="41.11" fill="#727272"/>
<rect x="404.76" y="643.18" width="12.39" height="41.11" fill="#909090"/>
<rect x="416.55" y="643.18" width="12.39" height="41.11" fill="#828282"/>
<rect x="428.35" y="643.18" width="12.39" height="41.11" fill="#a8a8a8"/>
<rect x="440.14" y="643.18" width="12.39" height="41.11" fill="#9c9c9c"/>
<rect x="451.93" y="643.18" width="12.39" height="41.11" fill="#808080"/>
<rect x="463.73" y="643.18" width="12.39" height="41.11" fill="#8a8a8a"/>
<rect x="475.52" y="643.18" width="12.39" height="41.11" fill="#727272"/>
<rect x="487.31" y="643.18" width="12.39" height="41.11" fill="#949494"/>
<rect x="499.11" y="643.18" width="12.39" height="41.11" fill="#acacac"/>
<rect x="510.90" y="643.18" width="12.39" height="41.11" fill="#a2a2a2"/>
<rect x="522.69" y="643.18" width="12.39" height="41.11" fill="#707070"/>
<rect x="534.49" y="643.18" width="12.39" height="41.11" fill="#585858"/>
<rect x="546.28" y="643.18" width="12.39" height="41.11" fill="#a0a0a0"/>
<rect x="558.07" y="643.18" width="12.39" height="41.11" fill="#1e1e1e"/>
<rect x="569.87" y="643.18" width="12.39" height="41.11" fill="#a0a0a0"/>
<rect x="581.66" y="643.18" width="12.39" height="41.11" fill="#aeaeae"/>
<rect x="593.45" y="643.18" width="12.39" height="41.11" fill="#6a6a6a"/>
<rect x="605.25" y="643.18" width="12.39" height="41.11" fill="#848484"/>
<rect x="617.04" y="643.18" width="12.39" height="41.11" fill="#646464"/>
<rect x="628.83" y="643.18" width="12.39" height="41.11" fill="#a8a8a8"/>
<rect x="640.63" y="643.18" width="12.39" height="41.11" fill="#828282"/>
<rect x="652.42" y="643.18" width="12.39" height="41.11" fill="#9a9a9a"/>
<rect x="664.21" y="643.18" width="12.39" height="41.11" fill="#8c8c8c"/>
<rect x="676.01" y="643.18" width="12.39" height="41.11" fill="#848484"/>
<rect x="157.10" y="683.69" width="12.39" height="41.11" fill="#d2d2d2"/>
<rect x="168.89" y="683.69" width="12.39" height="41.11" fill="#bebebe"/>
<rect x="180.69" y="683.69" width="12.39" height="41.11" fill="#5e5e5e"/>
<rect x="192.48" y="683.69" width="12.39" height="41.11" fill="#9e9e9e"/>
<rect x="204.27" y="683.69" width="12.39" height="41.11" fill="#9c9c9c"/>
<rect x="216.07" y="683.69" width="12.39" height="41.11" fill="#acacac"/>
<rect x="227.86" y="683.69" width="12.39" height="41.11" fill="#acacac"/>
<rect x="239.65" y="683.69" width="12.39" height="41.11" fill="#969696"/>
<rect x="251.45" y="683.69" width="12.39" height="41.11" fill="#747474"/>
<rect x="263.24" y="683.69" width="12.39" height="41.11" fill="#a8a8a8"/>
<rect x="275.03" y="683.69" width="12.39" height="41.11" fill="#d4d4d4"/>
<rect x="286.83" y="683.69" width="12.39" height="41.11" fill="#b0b0b0"/>
<rect x="298.62" y="683.69" width="12.39" height="41.11" fill="#4a4a4a"/>
<rect x="310.41" y="683.69" width="12.39" height="41.11" fill="#b4b4b4"/>
<rect x="322.21" y="683.69" width="12.39" height="41.11" fill="#4a4a4a"/>
<rect x="334.00" y="683.69" width="12.39" height="41.11" fill="#7e7e7e"/>
<rect x="345.79" y="683.69" width="12.39" height="41.11" fill="#828282"/>
<rect x="357.59" y="683.69" width="12.39" height="41.11" fill="#525252"/>
<rect x="369.38" y="683.69" width="12.39" height="41.11" fill="#525252"/>
<rect x="381.17" y="683.69" width="12.39" height="41.11" fill="#a8a8a8"/>
<rect x="392.97" y="683.69" width="12.39" height="41.11" fill="#aeaeae"/>
<rect x="404.76" y="683.69" width="12.39" height="41.11" fill="#6e6e6e"/>
<rect x="416.55" y="683.69" width="12.39" height="41.11" fill="#343434"/>
<rect x="428.35" y="683.69" width="12.39" height="41.11" fill="#b8b8b8"/>
<rect x="440.14" y="683.69" width="12.39" height="41.11" fill="#b8b8b8"/>
<rect x="451.93" y="683.69" width="12.39" height="41.11" fill="#707070"/>
<rect x="463.73" y="683.69" width="12.39" height="41.11" fill="#909090"/>
<rect x="475.52" y="683.69" width="12.39" height="41.11" fill="#bcbcbc"/>
<rect x="487.31" y="683.69" width="12.39" height="41.11" fill="#d6d6d6"/>
<rect x="499.11" y="683.69" width="12.39" height="41.11" fill="#e8e8e8"/>
<rect x="510.90" y="683.69" width="12.39" height="41.11" fill="#a2a2a2"/>
<rect x="522.69" y="683.69" width="12.39" height="41.11" fill="#7a7a7a"/>
<rect x="534.49" y="683.69" width="12.39" height="41.11" fill="#808080"/>
<rect x="546.28" y="683.69" width="12.39" height="41.11" fill="#8c8c8c"/>
<rect x="558.07" y="683.69" width="12.39" height="41.11" fill="#7e7e7e"/>
<rect x="569.87" y="683.69" width="12.39" height="41.11" fill="#d2d2d2"/>
<rect x="581.66" y="683.69" width="12.39" height="41.11" fill="#c8c8c8"/>
<rect x="593.45" y="683.69" width="12.39" height="41.11" fill="#a2a2a2"/>
<rect x="605.25" y="683.69" width="12.39" height="41.11" fill="#a0a0a0"/>
<rect x="617.04" y="683.69" width="12.39" height="41.11" fill="#7c7c7c"/>
<rect x="628.83" y="683.69" width="12.39" height="41.11" fill="#d0d0d0"/>
<rect x="640.63" y="683.69" width="12.39" height="41.11" fill="#686868"/>
<rect x="652.42" y="683.69" width="12.39" height="41.11" fill="#dcdcdc"/>
<rect x="664.21" y="683.69" width="12.39" height="41.11" fill="#d8d8d8"/>
<rect x="676.01" y="683.69" width="12.39" height="41.11" fill="#cccccc"/>
<rect x="157.10" y="724.19" width="12.39" height="41.11" fill="#ffffff"/>
<rect x="168.89" y="724.19" width="12.39" height="41.11" fill="#d2d2d2"/>
<rect x="180.69" y="724.19" width="12.39" height="41.11" fill="#646464"/>
<rect x="192.48" y="724.19" width="12.39" height="41.11" fill="#b4b4b4"/>
<rect x="204.27" y="724.19" width="12.39" height="41.11" fill="#5e5e5e"/>
<rect x="216.07" y="724.19" width="12.39" height="41.11" fill="#cacaca"/>
<rect x="227.86" y="724.19" width="12.39" height="41.11" fill="#a6a6a6"/>
<rect x="239.65" y="724.19" width="12.39" height="41.11" fill="#404040"/>
<rect x="251.45" y="724.19" width="12.39" height="41.11" fill="#5e5e5e"/>
<rect x="263.24" y="724.19" width="12.39" height="41.11" fill="#929292"/>
<rect x="275.03" y="724.19" width="12.39" height="41.11" fill="#e8e8e8"/>
<rect x="286.83" y="724.19" width="12.39" height="41.11" fill="#d4d4d4"/>
<rect x="298.62" y="724.19" width="12.39" height="41.11" fill="#a4a4a4"/>
<rect x="310.41" y="724.19" width="12.39" height="41.11" fill="#d2d2d2"/>
<rect x="322.21" y="724.19" width="12.39" height="41.11" fill="#2e2e2e"/>
<rect x="334.00" y="724.19" width="12.39" height="41.11" fill="#888888"/>
<rect x="345.79" y="724.19" width="12.39" height="41.11" fill="#7c7c7c"/>
<rect x="357.59" y="724.19" width="12.39" height="41.11" fill="#666666"/>
<rect x="369.38" y="724.19" width="12.39" height="41.11" fill="#707070"/>
<rect x="381.17" y="724.19" width="12.39" height="41.11" fill="#d0d0d0"/>
<rect x="392.97" y="724.19" width="12.39" height="41.11" fill="#cecece"/>
<rect x="404.76" y="724.19" width="12.39" height="41.11" fill="#3c3c3c"/>
<rect x="416.55" y="724.19" width="12.39" height="41.11" fill="#8c8c8c"/>
<rect x="428.35" y="724.19" width="12.39" height="41.11" fill="#bababa"/>
<rect x="440.14" y="724.19" width="12.39" height="41.11" fill="#b8b8b8"/>
<rect x="451.93" y="724.19" width="12.39" height="41.11" fill="#747474"/>
<rect x="463.73" y="724.19" width="12.39" height="41.11" fill="#4c4c4c"/>
<rect x="475.52" y="724.19" width="12.39" height="41.11" fill="#e2e2e2"/>
<rect x="487.31" y="724.19" width="12.39" height="41.11" fill="#dcdcdc"/>
<rect x="499.11" y="724.19" width="12.39" height="41.11" fill="#fcfcfc"/>
<rect x="510.90" y="724.19" width="12.39" height="41.11" fill="#969696"/>
<rect x="522.69" y="724.19" width="12.39" height="41.11" fill="#8e8e8e"/>
<rect x="534.49" y="724.19" width="12.39" height="41.11" fill="#727272"/>
<rect x="546.28" y="724.19" width="12.39" height="41.11" fill="#b0b0b0"/>
<rect x="558.07" y="724.19" width="12.39" height="41.11" fill="#5a5a5a"/>
<rect x="569.87" y="724.19" width="12.39" height="41.11" fill="#e6e6e6"/>
<rect x="581.66" y="724.19" width="12.39" height="41.11" fill="#eaeaea"/>
<rect x="593.45" y="724.19" width="12.39" height="41.11" fill="#acacac"/>
<rect x="605.25" y="724.19" width="12.39" height="41.11" fill="#b8b8b8"/>
<rect x="617.04" y="724.19" width="12.39" height="41.11" fill="#7e7e7e"/>
<rect x="628.83" y="724.19" width="12.39" height="41.11" fill="#d2d2d2"/>
<rect x="640.63" y="724.19" width="12.39" height="41.11" fill="#444444"/>
<rect x="652.42" y="724.19" width="12.39" height="41.11" fill="#f0f0f0"/>
<rect x="664.21" y="724.19" width="12.39" height="41.11" fill="#e8e8e8"/>
<rect x="676.01" y="724.19" width="12.39" height="41.11" fill="#eaeaea"/>
</g>
<rect x="157" y="156.7" width="530.7" height="607.6" fill="none" stroke="#222" stroke-width="1.3"/>
<g stroke="#000" stroke-width="2" fill="none">
<path d="M157 743.9V258.7" stroke-width="1.5"/>
<path d="M137.5 743.9H157"/>
<path d="M137.5 622.6H157"/>
<path d="M137.5 501.3H157"/>
<path d="M137.5 380.0H157"/>
<path d="M137.5 258.7H157"/>
<path d="M163.0 764.3H633.8" stroke-width="1.3"/>
<path d="M163.0 764V784"/>
<path d="M280.7 764V784"/>
<path d="M398.4 764V784"/>
<path d="M516.1 764V784"/>
<path d="M633.8 764V784"/>
</g>
<g font-size="32px" text-anchor="middle">
<text x="163.0" y="834">0</text>
<text x="280.7" y="834">200</text>
<text x="398.4" y="834">400</text>
<text x="516.1" y="834">600</text>
<text x="633.8" y="834">800</text>
<text transform="translate(111 743.9) rotate(-90)">0.0</text>
<text transform="translate(111 622.6) rotate(-90)">0.1</text>
<text transform="translate(111 501.3) rotate(-90)">0.2</text>
<text transform="translate(111 380.0) rotate(-90)">0.3</text>
<text transform="translate(111 258.7) rotate(-90)">0.4</text>
<text x="422.8" y="910.5">time</text>
<text transform="translate(34.7 461.4) rotate(-90)">frequency</text>
</g>
<text x="421.3" y="93" font-size="38.4px" font-weight="bold" text-anchor="middle">A) Raw results</text>
<g shape-rendering="crispEdges">
<rect x="902.50" y="45.50" width="11.90" height="52.62" fill="#360351"/>
<rect x="913.80" y="45.50" width="11.90" height="52.62" fill="#370856"/>
<rect x="925.09" y="45.50" width="11.90" height="52.62" fill="#380f5c"/>
<rect x="936.39" y="45.50" width="11.90" height="52.62" fill="#34004b"/>
<rect x="947.68" y="45.50" width="11.90" height="52.62" fill="#38115e"/>
<rect x="958.98" y="45.50" width="11.90" height="52.62" fill="#37236c"/>
<rect x="970.27" y="45.50" width="11.90" height="52.62" fill="#370754"/>
<rect x="981.57" y="45.50" width="11.90" height="52.62" fill="#360351"/>
<rect x="992.86" y="45.50" width="11.90" height="52.62" fill="#34004b"/>
<rect x="1004.16" y="45.50" width="11.90" height="52.62" fill="#38115e"/>
<rect x="1015.46" y="45.50" width="11.90" height="52.62" fill="#360351"/>
<rect x="1026.75" y="45.50" width="11.90" height="52.62" fill="#370b59"/>
<rect x="1038.05" y="45.50" width="11.90" height="52.62" fill="#37216b"/>
<rect x="1049.34" y="45.50" width="11.90" height="52.62" fill="#370a58"/>
<rect x="1060.64" y="45.50" width="11.90" height="52.62" fill="#34004b"/>
<rect x="1071.93" y="45.50" width="11.90" height="52.62" fill="#35004d"/>
<rect x="1083.23" y="45.50" width="11.90" height="52.62" fill="#370754"/>
<rect x="1094.52" y="45.50" width="11.90" height="52.62" fill="#381360"/>
<rect x="1105.82" y="45.50" width="11.90" height="52.62" fill="#381a66"/>
<rect x="1117.12" y="45.50" width="11.90" height="52.62" fill="#381c67"/>
<rect x="1128.41" y="45.50" width="11.90" height="52.62" fill="#381663"/>
<rect x="1139.71" y="45.50" width="11.90" height="52.62" fill="#35004c"/>
<rect x="1151.00" y="45.50" width="11.90" height="52.62" fill="#380f5c"/>
<rect x="1162.30" y="45.50" width="11.90" height="52.62" fill="#380f5c"/>
<rect x="1173.59" y="45.50" width="11.90" height="52.62" fill="#360452"/>
<rect x="1184.89" y="45.50" width="11.90" height="52.62" fill="#38105d"/>
<rect x="1196.18" y="45.50" width="11.90" height="52.62" fill="#360653"/>
<rect x="1207.48" y="45.50" width="11.90" height="52.62" fill="#370754"/>
<rect x="1218.78" y="45.50" width="11.90" height="52.62" fill="#38115e"/>
<rect x="1230.07" y="45.50" width="11.90" height="52.62" fill="#381764"/>
<rect x="1241.37" y="45.50" width="11.90" height="52.62" fill="#380f5c"/>
<rect x="1252.66" y="45.50" width="11.90" height="52.62" fill="#370a58"/>
<rect x="1263.96" y="45.50" width="11.90" height="52.62" fill="#381a66"/>
<rect x="1275.25" y="45.50" width="11.90" height="52.62" fill="#370c5a"/>
<rect x="1286.55" y="45.50" width="11.90" height="52.62" fill="#34004b"/>
<rect x="1297.84" y="45.50" width="11.90" height="52.62" fill="#360452"/>
<rect x="1309.14" y="45.50" width="11.90" height="52.62" fill="#38125f"/>
<rect x="1320.44" y="45.50" width="11.90" height="52.62" fill="#35014e"/>
<rect x="1331.73" y="45.50" width="11.90" height="52.62" fill="#34004b"/>
<rect x="1343.03" y="45.50" width="11.90" height="52.62" fill="#38125f"/>
<rect x="1354.32" y="45.50" width="11.90" height="52.62" fill="#35004c"/>
<rect x="1365.62" y="45.50" width="11.90" height="52.62" fill="#380d5b"/>
<rect x="1376.91" y="45.50" width="11.90" height="52.62" fill="#37206a"/>
<rect x="1388.21" y="45.50" width="11.90" height="52.62" fill="#35004c"/>
<rect x="1399.50" y="45.50" width="11.90" height="52.62" fill="#2e3d7b"/>
<rect x="902.50" y="97.52" width="11.90" height="52.62" fill="#35004c"/>
<rect x="913.80" y="97.52" width="11.90" height="52.62" fill="#360351"/>
<rect x="925.09" y="97.52" width="11.90" height="52.62" fill="#360452"/>
<rect x="936.39" y="97.52" width="11.90" height="52.62" fill="#381764"/>
<rect x="947.68" y="97.52" width="11.90" height="52.62" fill="#370b59"/>
<rect x="958.98" y="97.52" width="11.90" height="52.62" fill="#37206a"/>
<rect x="970.27" y="97.52" width="11.90" height="52.62" fill="#35014e"/>
<rect x="981.57" y="97.52" width="11.90" height="52.62" fill="#34004b"/>
<rect x="992.86" y="97.52" width="11.90" height="52.62" fill="#370754"/>
<rect x="1004.16" y="97.52" width="11.90" height="52.62" fill="#381764"/>
<rect x="1015.46" y="97.52" width="11.90" height="52.62" fill="#35014e"/>
<rect x="1026.75" y="97.52" width="11.90" height="52.62" fill="#370a58"/>
<rect x="1038.05" y="97.52" width="11.90" height="52.62" fill="#381764"/>
<rect x="1049.34" y="97.52" width="11.90" height="52.62" fill="#35014e"/>
<rect x="1060.64" y="97.52" width="11.90" height="52.62" fill="#34004b"/>
<rect x="1071.93" y="97.52" width="11.90" height="52.62" fill="#370a58"/>
<rect x="1083.23" y="97.52" width="11.90" height="52.62" fill="#34004b"/>
<rect x="1094.52" y="97.52" width="11.90" height="52.62" fill="#362670"/>
<rect x="1105.82" y="97.52" width="11.90" height="52.62" fill="#381663"/>
<rect x="1117.12" y="97.52" width="11.90" height="52.62" fill="#370a58"/>
<rect x="1128.41" y="97.52" width="11.90" height="52.62" fill="#34004b"/>
<rect x="1139.71" y="97.52" width="11.90" height="52.62" fill="#34004b"/>
<rect x="1151.00" y="97.52" width="11.90" height="52.62" fill="#360351"/>
<rect x="1162.30" y="97.52" width="11.90" height="52.62" fill="#370754"/>
<rect x="1173.59" y="97.52" width="11.90" height="52.62" fill="#380f5c"/>
<rect x="1184.89" y="97.52" width="11.90" height="52.62" fill="#381764"/>
<rect x="1196.18" y="97.52" width="11.90" height="52.62" fill="#371e69"/>
<rect x="1207.48" y="97.52" width="11.90" height="52.62" fill="#381b67"/>
<rect x="1218.78" y="97.52" width="11.90" height="52.62" fill="#34004b"/>
<rect x="1230.07" y="97.52" width="11.90" height="52.62" fill="#370c5a"/>
<rect x="1241.37" y="97.52" width="11.90" height="52.62" fill="#37216b"/>
<rect x="1252.66" y="97.52" width="11.90" height="52.62" fill="#370754"/>
<rect x="1263.96" y="97.52" width="11.90" height="52.62" fill="#360250"/>
<rect x="1275.25" y="97.52" width="11.90" height="52.62" fill="#381360"/>
<rect x="1286.55" y="97.52" width="11.90" height="52.62" fill="#370b59"/>
<rect x="1297.84" y="97.52" width="11.90" height="52.62" fill="#381a66"/>
<rect x="1309.14" y="97.52" width="11.90" height="52.62" fill="#37216b"/>
<rect x="1320.44" y="97.52" width="11.90" height="52.62" fill="#38115e"/>
<rect x="1331.73" y="97.52" width="11.90" height="52.62" fill="#370754"/>
<rect x="1343.03" y="97.52" width="11.90" height="52.62" fill="#370c5a"/>
<rect x="1354.32" y="97.52" width="11.90" height="52.62" fill="#360452"/>
<rect x="1365.62" y="97.52" width="11.90" height="52.62" fill="#370957"/>
<rect x="1376.91" y="97.52" width="11.90" height="52.62" fill="#381b67"/>
<rect x="1388.21" y="97.52" width="11.90" height="52.62" fill="#35004d"/>
<rect x="1399.50" y="97.52" width="11.90" height="52.62" fill="#362670"/>
<rect x="902.50" y="149.54" width="11.90" height="52.62" fill="#360351"/>
<rect x="913.80" y="149.54" width="11.90" height="52.62" fill="#370957"/>
<rect x="925.09" y="149.54" width="11.90" height="52.62" fill="#38125f"/>
<rect x="936.39" y="149.54" width="11.90" height="52.62" fill="#313578"/>
<rect x="947.68" y="149.54" width="11.90" height="52.62" fill="#35004d"/>
<rect x="958.98" y="149.54" width="11.90" height="52.62" fill="#370957"/>
<rect x="970.27" y="149.54" width="11.90" height="52.62" fill="#38125f"/>
<rect x="981.57" y="149.54" width="11.90" height="52.62" fill="#370b59"/>
<rect x="992.86" y="149.54" width="11.90" height="52.62" fill="#381764"/>
<rect x="1004.16" y="149.54" width="11.90" height="52.62" fill="#34004b"/>
<rect x="1015.46" y="149.54" width="11.90" height="52.62" fill="#370957"/>
<rect x="1026.75" y="149.54" width="11.90" height="52.62" fill="#360250"/>
<rect x="1038.05" y="149.54" width="11.90" height="52.62" fill="#370957"/>
<rect x="1049.34" y="149.54" width="11.90" height="52.62" fill="#380d5b"/>
<rect x="1060.64" y="149.54" width="11.90" height="52.62" fill="#34004b"/>
<rect x="1071.93" y="149.54" width="11.90" height="52.62" fill="#371e69"/>
<rect x="1083.23" y="149.54" width="11.90" height="52.62" fill="#360351"/>
<rect x="1094.52" y="149.54" width="11.90" height="52.62" fill="#333176"/>
<rect x="1105.82" y="149.54" width="11.90" height="52.62" fill="#38125f"/>
<rect x="1117.12" y="149.54" width="11.90" height="52.62" fill="#34004b"/>
<rect x="1128.41" y="149.54" width="11.90" height="52.62" fill="#370957"/>
<rect x="1139.71" y="149.54" width="11.90" height="52.62" fill="#370b59"/>
<rect x="1151.00" y="149.54" width="11.90" height="52.62" fill="#381663"/>
<rect x="1162.30" y="149.54" width="11.90" height="52.62" fill="#360653"/>
<rect x="1173.59" y="149.54" width="11.90" height="52.62" fill="#381b67"/>
<rect x="1184.89" y="149.54" width="11.90" height="52.62" fill="#37216b"/>
<rect x="1196.18" y="149.54" width="11.90" height="52.62" fill="#37206a"/>
<rect x="1207.48" y="149.54" width="11.90" height="52.62" fill="#380f5c"/>
<rect x="1218.78" y="149.54" width="11.90" height="52.62" fill="#360452"/>
<rect x="1230.07" y="149.54" width="11.90" height="52.62" fill="#370c5a"/>
<rect x="1241.37" y="149.54" width="11.90" height="52.62" fill="#37236d"/>
<rect x="1252.66" y="149.54" width="11.90" height="52.62" fill="#38125f"/>
<rect x="1263.96" y="149.54" width="11.90" height="52.62" fill="#370b59"/>
<rect x="1275.25" y="149.54" width="11.90" height="52.62" fill="#381764"/>
<rect x="1286.55" y="149.54" width="11.90" height="52.62" fill="#381360"/>
<rect x="1297.84" y="149.54" width="11.90" height="52.62" fill="#381b67"/>
<rect x="1309.14" y="149.54" width="11.90" height="52.62" fill="#333176"/>
<rect x="1320.44" y="149.54" width="11.90" height="52.62" fill="#37236d"/>
<rect x="1331.73" y="149.54" width="11.90" height="52.62" fill="#34004b"/>
<rect x="1343.03" y="149.54" width="11.90" height="52.62" fill="#34004b"/>
<rect x="1354.32" y="149.54" width="11.90" height="52.62" fill="#370c5a"/>
<rect x="1365.62" y="149.54" width="11.90" height="52.62" fill="#370754"/>
<rect x="1376.91" y="149.54" width="11.90" height="52.62" fill="#381360"/>
<rect x="1388.21" y="149.54" width="11.90" height="52.62" fill="#381663"/>
<rect x="1399.50" y="149.54" width="11.90" height="52.62" fill="#381b67"/>
<rect x="902.50" y="201.56" width="11.90" height="52.62" fill="#360653"/>
<rect x="913.80" y="201.56" width="11.90" height="52.62" fill="#38105d"/>
<rect x="925.09" y="201.56" width="11.90" height="52.62" fill="#381461"/>
<rect x="936.39" y="201.56" width="11.90" height="52.62" fill="#303779"/>
<rect x="947.68" y="201.56" width="11.90" height="52.62" fill="#381a66"/>
<rect x="958.98" y="201.56" width="11.90" height="52.62" fill="#360351"/>
<rect x="970.27" y="201.56" width="11.90" height="52.62" fill="#381764"/>
<rect x="981.57" y="201.56" width="11.90" height="52.62" fill="#370856"/>
<rect x="992.86" y="201.56" width="11.90" height="52.62" fill="#380d5b"/>
<rect x="1004.16" y="201.56" width="11.90" height="52.62" fill="#38125f"/>
<rect x="1015.46" y="201.56" width="11.90" height="52.62" fill="#35004d"/>
<rect x="1026.75" y="201.56" width="11.90" height="52.62" fill="#381a66"/>
<rect x="1038.05" y="201.56" width="11.90" height="52.62" fill="#381965"/>
<rect x="1049.34" y="201.56" width="11.90" height="52.62" fill="#381a66"/>
<rect x="1060.64" y="201.56" width="11.90" height="52.62" fill="#34004b"/>
<rect x="1071.93" y="201.56" width="11.90" height="52.62" fill="#370856"/>
<rect x="1083.23" y="201.56" width="11.90" height="52.62" fill="#38125f"/>
<rect x="1094.52" y="201.56" width="11.90" height="52.62" fill="#37206a"/>
<rect x="1105.82" y="201.56" width="11.90" height="52.62" fill="#37236d"/>
<rect x="1117.12" y="201.56" width="11.90" height="52.62" fill="#370b59"/>
<rect x="1128.41" y="201.56" width="11.90" height="52.62" fill="#370957"/>
<rect x="1139.71" y="201.56" width="11.90" height="52.62" fill="#360452"/>
<rect x="1151.00" y="201.56" width="11.90" height="52.62" fill="#352972"/>
<rect x="1162.30" y="201.56" width="11.90" height="52.62" fill="#381965"/>
<rect x="1173.59" y="201.56" width="11.90" height="52.62" fill="#381c67"/>
<rect x="1184.89" y="201.56" width="11.90" height="52.62" fill="#381663"/>
<rect x="1196.18" y="201.56" width="11.90" height="52.62" fill="#370754"/>
<rect x="1207.48" y="201.56" width="11.90" height="52.62" fill="#38125f"/>
<rect x="1218.78" y="201.56" width="11.90" height="52.62" fill="#370957"/>
<rect x="1230.07" y="201.56" width="11.90" height="52.62" fill="#381b67"/>
<rect x="1241.37" y="201.56" width="11.90" height="52.62" fill="#34004b"/>
<rect x="1252.66" y="201.56" width="11.90" height="52.62" fill="#352871"/>
<rect x="1263.96" y="201.56" width="11.90" height="52.62" fill="#34004b"/>
<rect x="1275.25" y="201.56" width="11.90" height="52.62" fill="#38125f"/>
<rect x="1286.55" y="201.56" width="11.90" height="52.62" fill="#371e69"/>
<rect x="1297.84" y="201.56" width="11.90" height="52.62" fill="#381a66"/>
<rect x="1309.14" y="201.56" width="11.90" height="52.62" fill="#370c5a"/>
<rect x="1320.44" y="201.56" width="11.90" height="52.62" fill="#370c5a"/>
<rect x="1331.73" y="201.56" width="11.90" height="52.62" fill="#34004b"/>
<rect x="1343.03" y="201.56" width="11.90" height="52.62" fill="#360653"/>
<rect x="1354.32" y="201.56" width="11.90" height="52.62" fill="#360250"/>
<rect x="1365.62" y="201.56" width="11.90" height="52.62" fill="#37216b"/>
<rect x="1376.91" y="201.56" width="11.90" height="52.62" fill="#38125f"/>
<rect x="1388.21" y="201.56" width="11.90" height="52.62" fill="#381965"/>
<rect x="1399.50" y="201.56" width="11.90" height="52.62" fill="#381360"/>
<rect x="902.50" y="253.58" width="11.90" height="52.62" fill="#360653"/>
<rect x="913.80" y="253.58" width="11.90" height="52.62" fill="#370b59"/>
<rect x="925.09" y="253.58" width="11.90" height="52.62" fill="#370a58"/>
<rect x="936.39" y="253.58" width="11.90" height="52.62" fill="#362670"/>
<rect x="947.68" y="253.58" width="11.90" height="52.62" fill="#381a66"/>
<rect x="958.98" y="253.58" width="11.90" height="52.62" fill="#38125f"/>
<rect x="970.27" y="253.58" width="11.90" height="52.62" fill="#381965"/>
<rect x="981.57" y="253.58" width="11.90" height="52.62" fill="#370957"/>
<rect x="992.86" y="253.58" width="11.90" height="52.62" fill="#34004b"/>
<rect x="1004.16" y="253.58" width="11.90" height="52.62" fill="#38125f"/>
<rect x="1015.46" y="253.58" width="11.90" height="52.62" fill="#38105d"/>
<rect x="1026.75" y="253.58" width="11.90" height="52.62" fill="#381360"/>
<rect x="1038.05" y="253.58" width="11.90" height="52.62" fill="#370856"/>
<rect x="1049.34" y="253.58" width="11.90" height="52.62" fill="#381965"/>
<rect x="1060.64" y="253.58" width="11.90" height="52.62" fill="#381663"/>
<rect x="1071.93" y="253.58" width="11.90" height="52.62" fill="#360653"/>
<rect x="1083.23" y="253.58" width="11.90" height="52.62" fill="#370c5a"/>
<rect x="1094.52" y="253.58" width="11.90" height="52.62" fill="#35004d"/>
<rect x="1105.82" y="253.58" width="11.90" height="52.62" fill="#371e69"/>
<rect x="1117.12" y="253.58" width="11.90" height="52.62" fill="#360351"/>
<rect x="1128.41" y="253.58" width="11.90" height="52.62" fill="#370c5a"/>
<rect x="1139.71" y="253.58" width="11.90" height="52.62" fill="#380f5c"/>
<rect x="1151.00" y="253.58" width="11.90" height="52.62" fill="#352972"/>
<rect x="1162.30" y="253.58" width="11.90" height="52.62" fill="#381965"/>
<rect x="1173.59" y="253.58" width="11.90" height="52.62" fill="#381a66"/>
<rect x="1184.89" y="253.58" width="11.90" height="52.62" fill="#34004b"/>
<rect x="1196.18" y="253.58" width="11.90" height="52.62" fill="#360452"/>
<rect x="1207.48" y="253.58" width="11.90" height="52.62" fill="#37216b"/>
<rect x="1218.78" y="253.58" width="11.90" height="52.62" fill="#360653"/>
<rect x="1230.07" y="253.58" width="11.90" height="52.62" fill="#381461"/>
<rect x="1241.37" y="253.58" width="11.90" height="52.62" fill="#352972"/>
<rect x="1252.66" y="253.58" width="11.90" height="52.62" fill="#332f75"/>
<rect x="1263.96" y="253.58" width="11.90" height="52.62" fill="#370957"/>
<rect x="1275.25" y="253.58" width="11.90" height="52.62" fill="#360452"/>
<rect x="1286.55" y="253.58" width="11.90" height="52.62" fill="#37236c"/>
<rect x="1297.84" y="253.58" width="11.90" height="52.62" fill="#323377"/>
<rect x="1309.14" y="253.58" width="11.90" height="52.62" fill="#34004b"/>
<rect x="1320.44" y="253.58" width="11.90" height="52.62" fill="#370c5a"/>
<rect x="1331.73" y="253.58" width="11.90" height="52.62" fill="#370957"/>
<rect x="1343.03" y="253.58" width="11.90" height="52.62" fill="#370a58"/>
<rect x="1354.32" y="253.58" width="11.90" height="52.62" fill="#38125f"/>
<rect x="1365.62" y="253.58" width="11.90" height="52.62" fill="#381461"/>
<rect x="1376.91" y="253.58" width="11.90" height="52.62" fill="#35004c"/>
<rect x="1388.21" y="253.58" width="11.90" height="52.62" fill="#36256f"/>
<rect x="1399.50" y="253.58" width="11.90" height="52.62" fill="#380f5c"/>
<rect x="902.50" y="305.60" width="11.90" height="52.62" fill="#380f5c"/>
<rect x="913.80" y="305.60" width="11.90" height="52.62" fill="#35004d"/>
<rect x="925.09" y="305.60" width="11.90" height="52.62" fill="#34004b"/>
<rect x="936.39" y="305.60" width="11.90" height="52.62" fill="#38125f"/>
<rect x="947.68" y="305.60" width="11.90" height="52.62" fill="#381a66"/>
<rect x="958.98" y="305.60" width="11.90" height="52.62" fill="#381b67"/>
<rect x="970.27" y="305.60" width="11.90" height="52.62" fill="#360351"/>
<rect x="981.57" y="305.60" width="11.90" height="52.62" fill="#37236d"/>
<rect x="992.86" y="305.60" width="11.90" height="52.62" fill="#370b59"/>
<rect x="1004.16" y="305.60" width="11.90" height="52.62" fill="#360351"/>
<rect x="1015.46" y="305.60" width="11.90" height="52.62" fill="#34004b"/>
<rect x="1026.75" y="305.60" width="11.90" height="52.62" fill="#381764"/>
<rect x="1038.05" y="305.60" width="11.90" height="52.62" fill="#35014e"/>
<rect x="1049.34" y="305.60" width="11.90" height="52.62" fill="#34004b"/>
<rect x="1060.64" y="305.60" width="11.90" height="52.62" fill="#362670"/>
<rect x="1071.93" y="305.60" width="11.90" height="52.62" fill="#360452"/>
<rect x="1083.23" y="305.60" width="11.90" height="52.62" fill="#34004b"/>
<rect x="1094.52" y="305.60" width="11.90" height="52.62" fill="#38115e"/>
<rect x="1105.82" y="305.60" width="11.90" height="52.62" fill="#381360"/>
<rect x="1117.12" y="305.60" width="11.90" height="52.62" fill="#370957"/>
<rect x="1128.41" y="305.60" width="11.90" height="52.62" fill="#360653"/>
<rect x="1139.71" y="305.60" width="11.90" height="52.62" fill="#381461"/>
<rect x="1151.00" y="305.60" width="11.90" height="52.62" fill="#370754"/>
<rect x="1162.30" y="305.60" width="11.90" height="52.62" fill="#370b59"/>
<rect x="1173.59" y="305.60" width="11.90" height="52.62" fill="#381461"/>
<rect x="1184.89" y="305.60" width="11.90" height="52.62" fill="#381a66"/>
<rect x="1196.18" y="305.60" width="11.90" height="52.62" fill="#38125f"/>
<rect x="1207.48" y="305.60" width="11.90" height="52.62" fill="#381b67"/>
<rect x="1218.78" y="305.60" width="11.90" height="52.62" fill="#360452"/>
<rect x="1230.07" y="305.60" width="11.90" height="52.62" fill="#380d5b"/>
<rect x="1241.37" y="305.60" width="11.90" height="52.62" fill="#323377"/>
<rect x="1252.66" y="305.60" width="11.90" height="52.62" fill="#323377"/>
<rect x="1263.96" y="305.60" width="11.90" height="52.62" fill="#34004b"/>
<rect x="1275.25" y="305.60" width="11.90" height="52.62" fill="#370c5a"/>
<rect x="1286.55" y="305.60" width="11.90" height="52.62" fill="#380f5c"/>
<rect x="1297.84" y="305.60" width="11.90" height="52.62" fill="#352871"/>
<rect x="1309.14" y="305.60" width="11.90" height="52.62" fill="#370754"/>
<rect x="1320.44" y="305.60" width="11.90" height="52.62" fill="#38125f"/>
<rect x="1331.73" y="305.60" width="11.90" height="52.62" fill="#38105d"/>
<rect x="1343.03" y="305.60" width="11.90" height="52.62" fill="#381764"/>
<rect x="1354.32" y="305.60" width="11.90" height="52.62" fill="#381360"/>
<rect x="1365.62" y="305.60" width="11.90" height="52.62" fill="#34004b"/>
<rect x="1376.91" y="305.60" width="11.90" height="52.62" fill="#362670"/>
<rect x="1388.21" y="305.60" width="11.90" height="52.62" fill="#380d5b"/>
<rect x="1399.50" y="305.60" width="11.90" height="52.62" fill="#381764"/>
<rect x="902.50" y="357.62" width="11.90" height="52.62" fill="#381360"/>
<rect x="913.80" y="357.62" width="11.90" height="52.62" fill="#35004d"/>
<rect x="925.09" y="357.62" width="11.90" height="52.62" fill="#380d5b"/>
<rect x="936.39" y="357.62" width="11.90" height="52.62" fill="#360351"/>
<rect x="947.68" y="357.62" width="11.90" height="52.62" fill="#34004b"/>
<rect x="958.98" y="357.62" width="11.90" height="52.62" fill="#380d5b"/>
<rect x="970.27" y="357.62" width="11.90" height="52.62" fill="#34004b"/>
<rect x="981.57" y="357.62" width="11.90" height="52.62" fill="#362670"/>
<rect x="992.86" y="357.62" width="11.90" height="52.62" fill="#38125f"/>
<rect x="1004.16" y="357.62" width="11.90" height="52.62" fill="#360250"/>
<rect x="1015.46" y="357.62" width="11.90" height="52.62" fill="#381965"/>
<rect x="1026.75" y="357.62" width="11.90" height="52.62" fill="#37236d"/>
<rect x="1038.05" y="357.62" width="11.90" height="52.62" fill="#381764"/>
<rect x="1049.34" y="357.62" width="11.90" height="52.62" fill="#34004b"/>
<rect x="1060.64" y="357.62" width="11.90" height="52.62" fill="#352972"/>
<rect x="1071.93" y="357.62" width="11.90" height="52.62" fill="#38125f"/>
<rect x="1083.23" y="357.62" width="11.90" height="52.62" fill="#35004d"/>
<rect x="1094.52" y="357.62" width="11.90" height="52.62" fill="#37216b"/>
<rect x="1105.82" y="357.62" width="11.90" height="52.62" fill="#381a66"/>
<rect x="1117.12" y="357.62" width="11.90" height="52.62" fill="#371e69"/>
<rect x="1128.41" y="357.62" width="11.90" height="52.62" fill="#38105d"/>
<rect x="1139.71" y="357.62" width="11.90" height="52.62" fill="#38125f"/>
<rect x="1151.00" y="357.62" width="11.90" height="52.62" fill="#360452"/>
<rect x="1162.30" y="357.62" width="11.90" height="52.62" fill="#360250"/>
<rect x="1173.59" y="357.62" width="11.90" height="52.62" fill="#380d5b"/>
<rect x="1184.89" y="357.62" width="11.90" height="52.62" fill="#381b67"/>
<rect x="1196.18" y="357.62" width="11.90" height="52.62" fill="#34004b"/>
<rect x="1207.48" y="357.62" width="11.90" height="52.62" fill="#38105d"/>
<rect x="1218.78" y="357.62" width="11.90" height="52.62" fill="#370a58"/>
<rect x="1230.07" y="357.62" width="11.90" height="52.62" fill="#34004b"/>
<rect x="1241.37" y="357.62" width="11.90" height="52.62" fill="#381b67"/>
<rect x="1252.66" y="357.62" width="11.90" height="52.62" fill="#352871"/>
<rect x="1263.96" y="357.62" width="11.90" height="52.62" fill="#370856"/>
<rect x="1275.25" y="357.62" width="11.90" height="52.62" fill="#360452"/>
<rect x="1286.55" y="357.62" width="11.90" height="52.62" fill="#381764"/>
<rect x="1297.84" y="357.62" width="11.90" height="52.62" fill="#35004d"/>
<rect x="1309.14" y="357.62" width="11.90" height="52.62" fill="#370754"/>
<rect x="1320.44" y="357.62" width="11.90" height="52.62" fill="#381360"/>
<rect x="1331.73" y="357.62" width="11.90" height="52.62" fill="#37216b"/>
<rect x="1343.03" y="357.62" width="11.90" height="52.62" fill="#37216b"/>
<rect x="1354.32" y="357.62" width="11.90" height="52.62" fill="#360250"/>
<rect x="1365.62" y="357.62" width="11.90" height="52.62" fill="#381a66"/>
<rect x="1376.91" y="357.62" width="11.90" height="52.62" fill="#380d5b"/>
<rect x="1388.21" y="357.62" width="11.90" height="52.62" fill="#381360"/>
<rect x="1399.50" y="357.62" width="11.90" height="52.62" fill="#381a66"/>
<rect x="902.50" y="409.64" width="11.90" height="52.62" fill="#381c67"/>
<rect x="913.80" y="409.64" width="11.90" height="52.62" fill="#34004b"/>
<rect x="925.09" y="409.64" width="11.90" height="52.62" fill="#362670"/>
<rect x="936.39" y="409.64" width="11.90" height="52.62" fill="#370b59"/>
<rect x="947.68" y="409.64" width="11.90" height="52.62" fill="#36256f"/>
<rect x="958.98" y="409.64" width="11.90" height="52.62" fill="#35004c"/>
<rect x="970.27" y="409.64" width="11.90" height="52.62" fill="#34004b"/>
<rect x="981.57" y="409.64" width="11.90" height="52.62" fill="#370b59"/>
<rect x="992.86" y="409.64" width="11.90" height="52.62" fill="#360351"/>
<rect x="1004.16" y="409.64" width="11.90" height="52.62" fill="#381b67"/>
<rect x="1015.46" y="409.64" width="11.90" height="52.62" fill="#381360"/>
<rect x="1026.75" y="409.64" width="11.90" height="52.62" fill="#381965"/>
<rect x="1038.05" y="409.64" width="11.90" height="52.62" fill="#34004b"/>
<rect x="1049.34" y="409.64" width="11.90" height="52.62" fill="#35004c"/>
<rect x="1060.64" y="409.64" width="11.90" height="52.62" fill="#362670"/>
<rect x="1071.93" y="409.64" width="11.90" height="52.62" fill="#37216b"/>
<rect x="1083.23" y="409.64" width="11.90" height="52.62" fill="#381b67"/>
<rect x="1094.52" y="409.64" width="11.90" height="52.62" fill="#380d5b"/>
<rect x="1105.82" y="409.64" width="11.90" height="52.62" fill="#371e69"/>
<rect x="1117.12" y="409.64" width="11.90" height="52.62" fill="#37216b"/>
<rect x="1128.41" y="409.64" width="11.90" height="52.62" fill="#37216b"/>
<rect x="1139.71" y="409.64" width="11.90" height="52.62" fill="#370a58"/>
<rect x="1151.00" y="409.64" width="11.90" height="52.62" fill="#35004c"/>
<rect x="1162.30" y="409.64" width="11.90" height="52.62" fill="#360250"/>
<rect x="1173.59" y="409.64" width="11.90" height="52.62" fill="#352871"/>
<rect x="1184.89" y="409.64" width="11.90" height="52.62" fill="#34004b"/>
<rect x="1196.18" y="409.64" width="11.90" height="52.62" fill="#381663"/>
<rect x="1207.48" y="409.64" width="11.90" height="52.62" fill="#34004b"/>
<rect x="1218.78" y="409.64" width="11.90" height="52.62" fill="#370a58"/>
<rect x="1230.07" y="409.64" width="11.90" height="52.62" fill="#370c5a"/>
<rect x="1241.37" y="409.64" width="11.90" height="52.62" fill="#360250"/>
<rect x="1252.66" y="409.64" width="11.90" height="52.62" fill="#30397a"/>
<rect x="1263.96" y="409.64" width="11.90" height="52.62" fill="#370c5a"/>
<rect x="1275.25" y="409.64" width="11.90" height="52.62" fill="#34004b"/>
<rect x="1286.55" y="409.64" width="11.90" height="52.62" fill="#36256f"/>
<rect x="1297.84" y="409.64" width="11.90" height="52.62" fill="#370957"/>
<rect x="1309.14" y="409.64" width="11.90" height="52.62" fill="#34004b"/>
<rect x="1320.44" y="409.64" width="11.90" height="52.62" fill="#362670"/>
<rect x="1331.73" y="409.64" width="11.90" height="52.62" fill="#362670"/>
<rect x="1343.03" y="409.64" width="11.90" height="52.62" fill="#381b67"/>
<rect x="1354.32" y="409.64" width="11.90" height="52.62" fill="#35004c"/>
<rect x="1365.62" y="409.64" width="11.90" height="52.62" fill="#381764"/>
<rect x="1376.91" y="409.64" width="11.90" height="52.62" fill="#381360"/>
<rect x="1388.21" y="409.64" width="11.90" height="52.62" fill="#360653"/>
<rect x="1399.50" y="409.64" width="11.90" height="52.62" fill="#370c5a"/>
<rect x="902.50" y="461.66" width="11.90" height="52.62" fill="#381663"/>
<rect x="913.80" y="461.66" width="11.90" height="52.62" fill="#380d5b"/>
<rect x="925.09" y="461.66" width="11.90" height="52.62" fill="#381b67"/>
<rect x="936.39" y="461.66" width="11.90" height="52.62" fill="#38115e"/>
<rect x="947.68" y="461.66" width="11.90" height="52.62" fill="#381c67"/>
<rect x="958.98" y="461.66" width="11.90" height="52.62" fill="#360351"/>
<rect x="970.27" y="461.66" width="11.90" height="52.62" fill="#34004b"/>
<rect x="981.57" y="461.66" width="11.90" height="52.62" fill="#360452"/>
<rect x="992.86" y="461.66" width="11.90" height="52.62" fill="#380f5c"/>
<rect x="1004.16" y="461.66" width="11.90" height="52.62" fill="#381461"/>
<rect x="1015.46" y="461.66" width="11.90" height="52.62" fill="#370b59"/>
<rect x="1026.75" y="461.66" width="11.90" height="52.62" fill="#37236d"/>
<rect x="1038.05" y="461.66" width="11.90" height="52.62" fill="#381663"/>
<rect x="1049.34" y="461.66" width="11.90" height="52.62" fill="#360250"/>
<rect x="1060.64" y="461.66" width="11.90" height="52.62" fill="#381b67"/>
<rect x="1071.93" y="461.66" width="11.90" height="52.62" fill="#381b67"/>
<rect x="1083.23" y="461.66" width="11.90" height="52.62" fill="#332f75"/>
<rect x="1094.52" y="461.66" width="11.90" height="52.62" fill="#360351"/>
<rect x="1105.82" y="461.66" width="11.90" height="52.62" fill="#370b59"/>
<rect x="1117.12" y="461.66" width="11.90" height="52.62" fill="#38125f"/>
<rect x="1128.41" y="461.66" width="11.90" height="52.62" fill="#360452"/>
<rect x="1139.71" y="461.66" width="11.90" height="52.62" fill="#37236c"/>
<rect x="1151.00" y="461.66" width="11.90" height="52.62" fill="#360452"/>
<rect x="1162.30" y="461.66" width="11.90" height="52.62" fill="#38115e"/>
<rect x="1173.59" y="461.66" width="11.90" height="52.62" fill="#2e3d7b"/>
<rect x="1184.89" y="461.66" width="11.90" height="52.62" fill="#371e69"/>
<rect x="1196.18" y="461.66" width="11.90" height="52.62" fill="#38125f"/>
<rect x="1207.48" y="461.66" width="11.90" height="52.62" fill="#381461"/>
<rect x="1218.78" y="461.66" width="11.90" height="52.62" fill="#360452"/>
<rect x="1230.07" y="461.66" width="11.90" height="52.62" fill="#37206a"/>
<rect x="1241.37" y="461.66" width="11.90" height="52.62" fill="#360250"/>
<rect x="1252.66" y="461.66" width="11.90" height="52.62" fill="#352972"/>
<rect x="1263.96" y="461.66" width="11.90" height="52.62" fill="#380d5b"/>
<rect x="1275.25" y="461.66" width="11.90" height="52.62" fill="#360452"/>
<rect x="1286.55" y="461.66" width="11.90" height="52.62" fill="#34004b"/>
<rect x="1297.84" y="461.66" width="11.90" height="52.62" fill="#381764"/>
<rect x="1309.14" y="461.66" width="11.90" height="52.62" fill="#380f5c"/>
<rect x="1320.44" y="461.66" width="11.90" height="52.62" fill="#352b73"/>
<rect x="1331.73" y="461.66" width="11.90" height="52.62" fill="#381c67"/>
<rect x="1343.03" y="461.66" width="11.90" height="52.62" fill="#381764"/>
<rect x="1354.32" y="461.66" width="11.90" height="52.62" fill="#37236c"/>
<rect x="1365.62" y="461.66" width="11.90" height="52.62" fill="#34004b"/>
<rect x="1376.91" y="461.66" width="11.90" height="52.62" fill="#381b67"/>
<rect x="1388.21" y="461.66" width="11.90" height="52.62" fill="#37206a"/>
<rect x="1399.50" y="461.66" width="11.90" height="52.62" fill="#381360"/>
<rect x="902.50" y="513.68" width="11.90" height="52.62" fill="#370957"/>
<rect x="913.80" y="513.68" width="11.90" height="52.62" fill="#342d74"/>
<rect x="925.09" y="513.68" width="11.90" height="52.62" fill="#38105d"/>
<rect x="936.39" y="513.68" width="11.90" height="52.62" fill="#35004c"/>
<rect x="947.68" y="513.68" width="11.90" height="52.62" fill="#371e69"/>
<rect x="958.98" y="513.68" width="11.90" height="52.62" fill="#380f5c"/>
<rect x="970.27" y="513.68" width="11.90" height="52.62" fill="#37216b"/>
<rect x="981.57" y="513.68" width="11.90" height="52.62" fill="#370a58"/>
<rect x="992.86" y="513.68" width="11.90" height="52.62" fill="#360250"/>
<rect x="1004.16" y="513.68" width="11.90" height="52.62" fill="#381b67"/>
<rect x="1015.46" y="513.68" width="11.90" height="52.62" fill="#38125f"/>
<rect x="1026.75" y="513.68" width="11.90" height="52.62" fill="#38105d"/>
<rect x="1038.05" y="513.68" width="11.90" height="52.62" fill="#381b67"/>
<rect x="1049.34" y="513.68" width="11.90" height="52.62" fill="#370a58"/>
<rect x="1060.64" y="513.68" width="11.90" height="52.62" fill="#381a66"/>
<rect x="1071.93" y="513.68" width="11.90" height="52.62" fill="#370957"/>
<rect x="1083.23" y="513.68" width="11.90" height="52.62" fill="#37206a"/>
<rect x="1094.52" y="513.68" width="11.90" height="52.62" fill="#38105d"/>
<rect x="1105.82" y="513.68" width="11.90" height="52.62" fill="#37236c"/>
<rect x="1117.12" y="513.68" width="11.90" height="52.62" fill="#370a58"/>
<rect x="1128.41" y="513.68" width="11.90" height="52.62" fill="#342d74"/>
<rect x="1139.71" y="513.68" width="11.90" height="52.62" fill="#370b59"/>
<rect x="1151.00" y="513.68" width="11.90" height="52.62" fill="#360452"/>
<rect x="1162.30" y="513.68" width="11.90" height="52.62" fill="#381764"/>
<rect x="1173.59" y="513.68" width="11.90" height="52.62" fill="#381b67"/>
<rect x="1184.89" y="513.68" width="11.90" height="52.62" fill="#37216b"/>
<rect x="1196.18" y="513.68" width="11.90" height="52.62" fill="#370856"/>
<rect x="1207.48" y="513.68" width="11.90" height="52.62" fill="#38115e"/>
<rect x="1218.78" y="513.68" width="11.90" height="52.62" fill="#381663"/>
<rect x="1230.07" y="513.68" width="11.90" height="52.62" fill="#381b67"/>
<rect x="1241.37" y="513.68" width="11.90" height="52.62" fill="#370754"/>
<rect x="1252.66" y="513.68" width="11.90" height="52.62" fill="#352b73"/>
<rect x="1263.96" y="513.68" width="11.90" height="52.62" fill="#381a66"/>
<rect x="1275.25" y="513.68" width="11.90" height="52.62" fill="#370a58"/>
<rect x="1286.55" y="513.68" width="11.90" height="52.62" fill="#381360"/>
<rect x="1297.84" y="513.68" width="11.90" height="52.62" fill="#360452"/>
<rect x="1309.14" y="513.68" width="11.90" height="52.62" fill="#370b59"/>
<rect x="1320.44" y="513.68" width="11.90" height="52.62" fill="#37206a"/>
<rect x="1331.73" y="513.68" width="11.90" height="52.62" fill="#35004c"/>
<rect x="1343.03" y="513.68" width="11.90" height="52.62" fill="#362670"/>
<rect x="1354.32" y="513.68" width="11.90" height="52.62" fill="#381764"/>
<rect x="1365.62" y="513.68" width="11.90" height="52.62" fill="#381764"/>
<rect x="1376.91" y="513.68" width="11.90" height="52.62" fill="#371e69"/>
<rect x="1388.21" y="513.68" width="11.90" height="52.62" fill="#2d407c"/>
<rect x="1399.50" y="513.68" width="11.90" height="52.62" fill="#2c427c"/>
<rect x="902.50" y="565.70" width="11.90" height="52.62" fill="#360250"/>
<rect x="913.80" y="565.70" width="11.90" height="52.62" fill="#2c427c"/>
<rect x="925.09" y="565.70" width="11.90" height="52.62" fill="#370957"/>
<rect x="936.39" y="565.70" width="11.90" height="52.62" fill="#370b59"/>
<rect x="947.68" y="565.70" width="11.90" height="52.62" fill="#362670"/>
<rect x="958.98" y="565.70" width="11.90" height="52.62" fill="#380d5b"/>
<rect x="970.27" y="565.70" width="11.90" height="52.62" fill="#352972"/>
<rect x="981.57" y="565.70" width="11.90" height="52.62" fill="#381663"/>
<rect x="992.86" y="565.70" width="11.90" height="52.62" fill="#370856"/>
<rect x="1004.16" y="565.70" width="11.90" height="52.62" fill="#38105d"/>
<rect x="1015.46" y="565.70" width="11.90" height="52.62" fill="#37206a"/>
<rect x="1026.75" y="565.70" width="11.90" height="52.62" fill="#381764"/>
<rect x="1038.05" y="565.70" width="11.90" height="52.62" fill="#371e69"/>
<rect x="1049.34" y="565.70" width="11.90" height="52.62" fill="#342d74"/>
<rect x="1060.64" y="565.70" width="11.90" height="52.62" fill="#371e69"/>
<rect x="1071.93" y="565.70" width="11.90" height="52.62" fill="#360452"/>
<rect x="1083.23" y="565.70" width="11.90" height="52.62" fill="#370957"/>
<rect x="1094.52" y="565.70" width="11.90" height="52.62" fill="#38105d"/>
<rect x="1105.82" y="565.70" width="11.90" height="52.62" fill="#38105d"/>
<rect x="1117.12" y="565.70" width="11.90" height="52.62" fill="#38105d"/>
<rect x="1128.41" y="565.70" width="11.90" height="52.62" fill="#352972"/>
<rect x="1139.71" y="565.70" width="11.90" height="52.62" fill="#381461"/>
<rect x="1151.00" y="565.70" width="11.90" height="52.62" fill="#381461"/>
<rect x="1162.30" y="565.70" width="11.90" height="52.62" fill="#38125f"/>
<rect x="1173.59" y="565.70" width="11.90" height="52.62" fill="#360351"/>
<rect x="1184.89" y="565.70" width="11.90" height="52.62" fill="#370b59"/>
<rect x="1196.18" y="565.70" width="11.90" height="52.62" fill="#37236d"/>
<rect x="1207.48" y="565.70" width="11.90" height="52.62" fill="#34004b"/>
<rect x="1218.78" y="565.70" width="11.90" height="52.62" fill="#38125f"/>
<rect x="1230.07" y="565.70" width="11.90" height="52.62" fill="#38115e"/>
<rect x="1241.37" y="565.70" width="11.90" height="52.62" fill="#352972"/>
<rect x="1252.66" y="565.70" width="11.90" height="52.62" fill="#37216b"/>
<rect x="1263.96" y="565.70" width="11.90" height="52.62" fill="#37216b"/>
<rect x="1275.25" y="565.70" width="11.90" height="52.62" fill="#381764"/>
<rect x="1286.55" y="565.70" width="11.90" height="52.62" fill="#381764"/>
<rect x="1297.84" y="565.70" width="11.90" height="52.62" fill="#360250"/>
<rect x="1309.14" y="565.70" width="11.90" height="52.62" fill="#380f5c"/>
<rect x="1320.44" y="565.70" width="11.90" height="52.62" fill="#381a66"/>
<rect x="1331.73" y="565.70" width="11.90" height="52.62" fill="#370856"/>
<rect x="1343.03" y="565.70" width="11.90" height="52.62" fill="#313578"/>
<rect x="1354.32" y="565.70" width="11.90" height="52.62" fill="#381764"/>
<rect x="1365.62" y="565.70" width="11.90" height="52.62" fill="#381764"/>
<rect x="1376.91" y="565.70" width="11.90" height="52.62" fill="#313578"/>
<rect x="1388.21" y="565.70" width="11.90" height="52.62" fill="#352972"/>
<rect x="1399.50" y="565.70" width="11.90" height="52.62" fill="#313578"/>
<rect x="902.50" y="617.72" width="11.90" height="52.62" fill="#360250"/>
<rect x="913.80" y="617.72" width="11.90" height="52.62" fill="#37236d"/>
<rect x="925.09" y="617.72" width="11.90" height="52.62" fill="#360452"/>
<rect x="936.39" y="617.72" width="11.90" height="52.62" fill="#381c67"/>
<rect x="947.68" y="617.72" width="11.90" height="52.62" fill="#381c67"/>
<rect x="958.98" y="617.72" width="11.90" height="52.62" fill="#38115e"/>
<rect x="970.27" y="617.72" width="11.90" height="52.62" fill="#360452"/>
<rect x="981.57" y="617.72" width="11.90" height="52.62" fill="#381360"/>
<rect x="992.86" y="617.72" width="11.90" height="52.62" fill="#333176"/>
<rect x="1004.16" y="617.72" width="11.90" height="52.62" fill="#370c5a"/>
<rect x="1015.46" y="617.72" width="11.90" height="52.62" fill="#34004b"/>
<rect x="1026.75" y="617.72" width="11.90" height="52.62" fill="#381965"/>
<rect x="1038.05" y="617.72" width="11.90" height="52.62" fill="#371e69"/>
<rect x="1049.34" y="617.72" width="11.90" height="52.62" fill="#2e3d7b"/>
<rect x="1060.64" y="617.72" width="11.90" height="52.62" fill="#380d5b"/>
<rect x="1071.93" y="617.72" width="11.90" height="52.62" fill="#370856"/>
<rect x="1083.23" y="617.72" width="11.90" height="52.62" fill="#381360"/>
<rect x="1094.52" y="617.72" width="11.90" height="52.62" fill="#313578"/>
<rect x="1105.82" y="617.72" width="11.90" height="52.62" fill="#360351"/>
<rect x="1117.12" y="617.72" width="11.90" height="52.62" fill="#370754"/>
<rect x="1128.41" y="617.72" width="11.90" height="52.62" fill="#360653"/>
<rect x="1139.71" y="617.72" width="11.90" height="52.62" fill="#332f75"/>
<rect x="1151.00" y="617.72" width="11.90" height="52.62" fill="#371e69"/>
<rect x="1162.30" y="617.72" width="11.90" height="52.62" fill="#381b67"/>
<rect x="1173.59" y="617.72" width="11.90" height="52.62" fill="#37216b"/>
<rect x="1184.89" y="617.72" width="11.90" height="52.62" fill="#380f5c"/>
<rect x="1196.18" y="617.72" width="11.90" height="52.62" fill="#303779"/>
<rect x="1207.48" y="617.72" width="11.90" height="52.62" fill="#35004c"/>
<rect x="1218.78" y="617.72" width="11.90" height="52.62" fill="#34004b"/>
<rect x="1230.07" y="617.72" width="11.90" height="52.62" fill="#381663"/>
<rect x="1241.37" y="617.72" width="11.90" height="52.62" fill="#30397a"/>
<rect x="1252.66" y="617.72" width="11.90" height="52.62" fill="#37216b"/>
<rect x="1263.96" y="617.72" width="11.90" height="52.62" fill="#38125f"/>
<rect x="1275.25" y="617.72" width="11.90" height="52.62" fill="#362670"/>
<rect x="1286.55" y="617.72" width="11.90" height="52.62" fill="#38105d"/>
<rect x="1297.84" y="617.72" width="11.90" height="52.62" fill="#371e69"/>
<rect x="1309.14" y="617.72" width="11.90" height="52.62" fill="#342d74"/>
<rect x="1320.44" y="617.72" width="11.90" height="52.62" fill="#381764"/>
<rect x="1331.73" y="617.72" width="11.90" height="52.62" fill="#380f5c"/>
<rect x="1343.03" y="617.72" width="11.90" height="52.62" fill="#37216b"/>
<rect x="1354.32" y="617.72" width="11.90" height="52.62" fill="#37206a"/>
<rect x="1365.62" y="617.72" width="11.90" height="52.62" fill="#37216b"/>
<rect x="1376.91" y="617.72" width="11.90" height="52.62" fill="#381c67"/>
<rect x="1388.21" y="617.72" width="11.90" height="52.62" fill="#35014e"/>
<rect x="1399.50" y="617.72" width="11.90" height="52.62" fill="#35014e"/>
<rect x="902.50" y="669.74" width="11.90" height="52.62" fill="#360452"/>
<rect x="913.80" y="669.74" width="11.90" height="52.62" fill="#37206a"/>
<rect x="925.09" y="669.74" width="11.90" height="52.62" fill="#380f5c"/>
<rect x="936.39" y="669.74" width="11.90" height="52.62" fill="#381b67"/>
<rect x="947.68" y="669.74" width="11.90" height="52.62" fill="#381b67"/>
<rect x="958.98" y="669.74" width="11.90" height="52.62" fill="#371e69"/>
<rect x="970.27" y="669.74" width="11.90" height="52.62" fill="#381461"/>
<rect x="981.57" y="669.74" width="11.90" height="52.62" fill="#37206a"/>
<rect x="992.86" y="669.74" width="11.90" height="52.62" fill="#30397a"/>
<rect x="1004.16" y="669.74" width="11.90" height="52.62" fill="#323377"/>
<rect x="1015.46" y="669.74" width="11.90" height="52.62" fill="#2f3b7a"/>
<rect x="1026.75" y="669.74" width="11.90" height="52.62" fill="#38105d"/>
<rect x="1038.05" y="669.74" width="11.90" height="52.62" fill="#34004b"/>
<rect x="1049.34" y="669.74" width="11.90" height="52.62" fill="#2d407c"/>
<rect x="1060.64" y="669.74" width="11.90" height="52.62" fill="#35004d"/>
<rect x="1071.93" y="669.74" width="11.90" height="52.62" fill="#380f5c"/>
<rect x="1083.23" y="669.74" width="11.90" height="52.62" fill="#38115e"/>
<rect x="1094.52" y="669.74" width="11.90" height="52.62" fill="#333176"/>
<rect x="1105.82" y="669.74" width="11.90" height="52.62" fill="#34004b"/>
<rect x="1117.12" y="669.74" width="11.90" height="52.62" fill="#370856"/>
<rect x="1128.41" y="669.74" width="11.90" height="52.62" fill="#38125f"/>
<rect x="1139.71" y="669.74" width="11.90" height="52.62" fill="#362670"/>
<rect x="1151.00" y="669.74" width="11.90" height="52.62" fill="#381c67"/>
<rect x="1162.30" y="669.74" width="11.90" height="52.62" fill="#2e3d7b"/>
<rect x="1173.59" y="669.74" width="11.90" height="52.62" fill="#333176"/>
<rect x="1184.89" y="669.74" width="11.90" height="52.62" fill="#381b67"/>
<rect x="1196.18" y="669.74" width="11.90" height="52.62" fill="#37236c"/>
<rect x="1207.48" y="669.74" width="11.90" height="52.62" fill="#38125f"/>
<rect x="1218.78" y="669.74" width="11.90" height="52.62" fill="#352972"/>
<rect x="1230.07" y="669.74" width="11.90" height="52.62" fill="#2c427c"/>
<rect x="1241.37" y="669.74" width="11.90" height="52.62" fill="#303779"/>
<rect x="1252.66" y="669.74" width="11.90" height="52.62" fill="#38125f"/>
<rect x="1263.96" y="669.74" width="11.90" height="52.62" fill="#370754"/>
<rect x="1275.25" y="669.74" width="11.90" height="52.62" fill="#313578"/>
<rect x="1286.55" y="669.74" width="11.90" height="52.62" fill="#34004b"/>
<rect x="1297.84" y="669.74" width="11.90" height="52.62" fill="#313578"/>
<rect x="1309.14" y="669.74" width="11.90" height="52.62" fill="#2b457d"/>
<rect x="1320.44" y="669.74" width="11.90" height="52.62" fill="#380f5c"/>
<rect x="1331.73" y="669.74" width="11.90" height="52.62" fill="#371e69"/>
<rect x="1343.03" y="669.74" width="11.90" height="52.62" fill="#370b59"/>
<rect x="1354.32" y="669.74" width="11.90" height="52.62" fill="#2e3d7b"/>
<rect x="1365.62" y="669.74" width="11.90" height="52.62" fill="#381c67"/>
<rect x="1376.91" y="669.74" width="11.90" height="52.62" fill="#332f75"/>
<rect x="1388.21" y="669.74" width="11.90" height="52.62" fill="#37236d"/>
<rect x="1399.50" y="669.74" width="11.90" height="52.62" fill="#371e69"/>
<rect x="902.50" y="721.76" width="11.90" height="52.62" fill="#197a7e"/>
<rect x="913.80" y="721.76" width="11.90" height="52.62" fill="#235a7f"/>
<rect x="925.09" y="721.76" width="11.90" height="52.62" fill="#370957"/>
<rect x="936.39" y="721.76" width="11.90" height="52.62" fill="#323377"/>
<rect x="947.68" y="721.76" width="11.90" height="52.62" fill="#323277"/>
<rect x="958.98" y="721.76" width="11.90" height="52.62" fill="#2c417c"/>
<rect x="970.27" y="721.76" width="11.90" height="52.62" fill="#2c417c"/>
<rect x="981.57" y="721.76" width="11.90" height="52.62" fill="#342d74"/>
<rect x="992.86" y="721.76" width="11.90" height="52.62" fill="#381461"/>
<rect x="1004.16" y="721.76" width="11.90" height="52.62" fill="#2d3f7b"/>
<rect x="1015.46" y="721.76" width="11.90" height="52.62" fill="#197e7d"/>
<rect x="1026.75" y="721.76" width="11.90" height="52.62" fill="#29487d"/>
<rect x="1038.05" y="721.76" width="11.90" height="52.62" fill="#35014e"/>
<rect x="1049.34" y="721.76" width="11.90" height="52.62" fill="#26507e"/>
<rect x="1060.64" y="721.76" width="11.90" height="52.62" fill="#35014e"/>
<rect x="1071.93" y="721.76" width="11.90" height="52.62" fill="#381b67"/>
<rect x="1083.23" y="721.76" width="11.90" height="52.62" fill="#371e69"/>
<rect x="1094.52" y="721.76" width="11.90" height="52.62" fill="#360250"/>
<rect x="1105.82" y="721.76" width="11.90" height="52.62" fill="#360250"/>
<rect x="1117.12" y="721.76" width="11.90" height="52.62" fill="#2d3f7b"/>
<rect x="1128.41" y="721.76" width="11.90" height="52.62" fill="#2a467d"/>
<rect x="1139.71" y="721.76" width="11.90" height="52.62" fill="#38105d"/>
<rect x="1151.00" y="721.76" width="11.90" height="52.62" fill="#34004b"/>
<rect x="1162.30" y="721.76" width="11.90" height="52.62" fill="#274f7e"/>
<rect x="1173.59" y="721.76" width="11.90" height="52.62" fill="#274f7e"/>
<rect x="1184.89" y="721.76" width="11.90" height="52.62" fill="#38115e"/>
<rect x="1196.18" y="721.76" width="11.90" height="52.62" fill="#362770"/>
<rect x="1207.48" y="721.76" width="11.90" height="52.62" fill="#25547e"/>
<rect x="1218.78" y="721.76" width="11.90" height="52.62" fill="#18807d"/>
<rect x="1230.07" y="721.76" width="11.90" height="52.62" fill="#30af64"/>
<rect x="1241.37" y="721.76" width="11.90" height="52.62" fill="#313678"/>
<rect x="1252.66" y="721.76" width="11.90" height="52.62" fill="#381965"/>
<rect x="1263.96" y="721.76" width="11.90" height="52.62" fill="#381c67"/>
<rect x="1275.25" y="721.76" width="11.90" height="52.62" fill="#36246e"/>
<rect x="1286.55" y="721.76" width="11.90" height="52.62" fill="#381b67"/>
<rect x="1297.84" y="721.76" width="11.90" height="52.62" fill="#197c7d"/>
<rect x="1309.14" y="721.76" width="11.90" height="52.62" fill="#1e697f"/>
<rect x="1320.44" y="721.76" width="11.90" height="52.62" fill="#313678"/>
<rect x="1331.73" y="721.76" width="11.90" height="52.62" fill="#323377"/>
<rect x="1343.03" y="721.76" width="11.90" height="52.62" fill="#381864"/>
<rect x="1354.32" y="721.76" width="11.90" height="52.62" fill="#1a767e"/>
<rect x="1365.62" y="721.76" width="11.90" height="52.62" fill="#380e5b"/>
<rect x="1376.91" y="721.76" width="11.90" height="52.62" fill="#189078"/>
<rect x="1388.21" y="721.76" width="11.90" height="52.62" fill="#17897a"/>
<rect x="1399.50" y="721.76" width="11.90" height="52.62" fill="#1d6d7f"/>
<rect x="902.50" y="773.78" width="11.90" height="52.62" fill="#fde11e"/>
<rect x="913.80" y="773.78" width="11.90" height="52.62" fill="#197c7d"/>
<rect x="925.09" y="773.78" width="11.90" height="52.62" fill="#370a58"/>
<rect x="936.39" y="773.78" width="11.90" height="52.62" fill="#274e7e"/>
<rect x="947.68" y="773.78" width="11.90" height="52.62" fill="#370856"/>
<rect x="958.98" y="773.78" width="11.90" height="52.62" fill="#1e697f"/>
<rect x="970.27" y="773.78" width="11.90" height="52.62" fill="#2e3c7a"/>
<rect x="981.57" y="773.78" width="11.90" height="52.62" fill="#35004d"/>
<rect x="992.86" y="773.78" width="11.90" height="52.62" fill="#360653"/>
<rect x="1004.16" y="773.78" width="11.90" height="52.62" fill="#362670"/>
<rect x="1015.46" y="773.78" width="11.90" height="52.62" fill="#2dad65"/>
<rect x="1026.75" y="773.78" width="11.90" height="52.62" fill="#18817c"/>
<rect x="1038.05" y="773.78" width="11.90" height="52.62" fill="#313678"/>
<rect x="1049.34" y="773.78" width="11.90" height="52.62" fill="#187f7d"/>
<rect x="1060.64" y="773.78" width="11.90" height="52.62" fill="#35004c"/>
<rect x="1071.93" y="773.78" width="11.90" height="52.62" fill="#37226c"/>
<rect x="1083.23" y="773.78" width="11.90" height="52.62" fill="#381965"/>
<rect x="1094.52" y="773.78" width="11.90" height="52.62" fill="#380f5c"/>
<rect x="1105.82" y="773.78" width="11.90" height="52.62" fill="#381360"/>
<rect x="1117.12" y="773.78" width="11.90" height="52.62" fill="#1a787e"/>
<rect x="1128.41" y="773.78" width="11.90" height="52.62" fill="#1a767e"/>
<rect x="1139.71" y="773.78" width="11.90" height="52.62" fill="#35004d"/>
<rect x="1151.00" y="773.78" width="11.90" height="52.62" fill="#37236c"/>
<rect x="1162.30" y="773.78" width="11.90" height="52.62" fill="#25537e"/>
<rect x="1173.59" y="773.78" width="11.90" height="52.62" fill="#26507e"/>
<rect x="1184.89" y="773.78" width="11.90" height="52.62" fill="#381461"/>
<rect x="1196.18" y="773.78" width="11.90" height="52.62" fill="#360250"/>
<rect x="1207.48" y="773.78" width="11.90" height="52.62" fill="#1e9f70"/>
<rect x="1218.78" y="773.78" width="11.90" height="52.62" fill="#178e79"/>
<rect x="1230.07" y="773.78" width="11.90" height="52.62" fill="#d5dc15"/>
<rect x="1241.37" y="773.78" width="11.90" height="52.62" fill="#352a72"/>
<rect x="1252.66" y="773.78" width="11.90" height="52.62" fill="#36246e"/>
<rect x="1263.96" y="773.78" width="11.90" height="52.62" fill="#381562"/>
<rect x="1275.25" y="773.78" width="11.90" height="52.62" fill="#2a487d"/>
<rect x="1286.55" y="773.78" width="11.90" height="52.62" fill="#370855"/>
<rect x="1297.84" y="773.78" width="11.90" height="52.62" fill="#2aab67"/>
<rect x="1309.14" y="773.78" width="11.90" height="52.62" fill="#39b45e"/>
<rect x="1320.44" y="773.78" width="11.90" height="52.62" fill="#2c417c"/>
<rect x="1331.73" y="773.78" width="11.90" height="52.62" fill="#26517e"/>
<rect x="1343.03" y="773.78" width="11.90" height="52.62" fill="#381965"/>
<rect x="1354.32" y="773.78" width="11.90" height="52.62" fill="#197c7d"/>
<rect x="1365.62" y="773.78" width="11.90" height="52.62" fill="#35014e"/>
<rect x="1376.91" y="773.78" width="11.90" height="52.62" fill="#64c645"/>
<rect x="1388.21" y="773.78" width="11.90" height="52.62" fill="#2cac66"/>
<rect x="1399.50" y="773.78" width="11.90" height="52.62" fill="#39b45e"/>
</g>
<rect x="902.25" y="46" width="508.75" height="779" fill="none" stroke="#000" stroke-width="2"/>
<g stroke="#000" stroke-width="2" fill="none">
<path d="M882.5 799.2H902.25"/>
<path d="M882.5 643.4H902.25"/>
<path d="M882.5 487.6H902.25"/>
<path d="M882.5 331.8H902.25"/>
<path d="M882.5 176.0H902.25"/>
<path d="M993.8 825V844.5"/>
<path d="M1106.6 825V844.5"/>
<path d="M1219.4 825V844.5"/>
<path d="M1332.2 825V844.5"/>
</g>
<g font-size="32px" text-anchor="middle">
<text x="993.8" y="883.6">1200</text>
<text x="1106.6" y="883.6">1400</text>
<text x="1219.4" y="883.6">1600</text>
<text x="1332.2" y="883.6">1800</text>
<text transform="translate(867.8 799.2) rotate(-90)">0.0</text>
<text transform="translate(867.8 643.4) rotate(-90)">0.1</text>
<text transform="translate(867.8 487.6) rotate(-90)">0.2</text>
<text transform="translate(867.8 331.8) rotate(-90)">0.3</text>
<text transform="translate(867.8 176.0) rotate(-90)">0.4</text>
<text x="1157" y="933.2">Year</text>
<text x="1156.5" y="33.9">B) After normalization and adding colors</text>
</g>
<text transform="translate(810.2 550.1) rotate(-90)" font-size="32px">Frequency <tspan font-size="39px" dy="1.5">(</tspan><tspan dy="-1.5">y</tspan><tspan font-size="22.4px" dy="-15.9">−1</tspan><tspan font-size="39px" dy="17.4">)</tspan></text>
<g shape-rendering="crispEdges">
<rect x="1430.3" y="46.00" width="38.5" height="6.69" fill="#fde11e"/>
<rect x="1430.3" y="52.09" width="38.5" height="6.69" fill="#f7e01b"/>
<rect x="1430.3" y="58.17" width="38.5" height="6.69" fill="#f1e019"/>
<rect x="1430.3" y="64.26" width="38.5" height="6.69" fill="#ebdf17"/>
<rect x="1430.3" y="70.34" width="38.5" height="6.69" fill="#e4de16"/>
<rect x="1430.3" y="76.43" width="38.5" height="6.69" fill="#dedd15"/>
<rect x="1430.3" y="82.52" width="38.5" height="6.69" fill="#d8dd15"/>
<rect x="1430.3" y="88.60" width="38.5" height="6.69" fill="#d2dc15"/>
<rect x="1430.3" y="94.69" width="38.5" height="6.69" fill="#cbdb16"/>
<rect x="1430.3" y="100.77" width="38.5" height="6.69" fill="#c5da18"/>
<rect x="1430.3" y="106.86" width="38.5" height="6.69" fill="#bfd919"/>
<rect x="1430.3" y="112.95" width="38.5" height="6.69" fill="#b9d81c"/>
<rect x="1430.3" y="119.03" width="38.5" height="6.69" fill="#b2d81e"/>
<rect x="1430.3" y="125.12" width="38.5" height="6.69" fill="#acd720"/>
<rect x="1430.3" y="131.20" width="38.5" height="6.69" fill="#a6d623"/>
<rect x="1430.3" y="137.29" width="38.5" height="6.69" fill="#a0d526"/>
<rect x="1430.3" y="143.38" width="38.5" height="6.69" fill="#9ad428"/>
<rect x="1430.3" y="149.46" width="38.5" height="6.69" fill="#94d22b"/>
<rect x="1430.3" y="155.55" width="38.5" height="6.69" fill="#8ed12e"/>
<rect x="1430.3" y="161.63" width="38.5" height="6.69" fill="#89d031"/>
<rect x="1430.3" y="167.72" width="38.5" height="6.69" fill="#83cf34"/>
<rect x="1430.3" y="173.80" width="38.5" height="6.69" fill="#7ece37"/>
<rect x="1430.3" y="179.89" width="38.5" height="6.69" fill="#78cc3a"/>
<rect x="1430.3" y="185.98" width="38.5" height="6.69" fill="#73cb3c"/>
<rect x="1430.3" y="192.06" width="38.5" height="6.69" fill="#6ec93f"/>
<rect x="1430.3" y="198.15" width="38.5" height="6.69" fill="#69c842"/>
<rect x="1430.3" y="204.23" width="38.5" height="6.69" fill="#64c645"/>
<rect x="1430.3" y="210.32" width="38.5" height="6.69" fill="#5fc547"/>
<rect x="1430.3" y="216.41" width="38.5" height="6.69" fill="#5bc34a"/>
<rect x="1430.3" y="222.49" width="38.5" height="6.69" fill="#56c24c"/>
<rect x="1430.3" y="228.58" width="38.5" height="6.69" fill="#52c04f"/>
<rect x="1430.3" y="234.66" width="38.5" height="6.69" fill="#4ebe51"/>
<rect x="1430.3" y="240.75" width="38.5" height="6.69" fill="#4abc54"/>
<rect x="1430.3" y="246.84" width="38.5" height="6.69" fill="#46bb56"/>
<rect x="1430.3" y="252.92" width="38.5" height="6.69" fill="#42b958"/>
<rect x="1430.3" y="259.01" width="38.5" height="6.69" fill="#3eb75a"/>
<rect x="1430.3" y="265.09" width="38.5" height="6.69" fill="#3bb55d"/>
<rect x="1430.3" y="271.18" width="38.5" height="6.69" fill="#38b35f"/>
<rect x="1430.3" y="277.27" width="38.5" height="6.69" fill="#34b161"/>
<rect x="1430.3" y="283.35" width="38.5" height="6.69" fill="#31b063"/>
<rect x="1430.3" y="289.44" width="38.5" height="6.69" fill="#2eae64"/>
<rect x="1430.3" y="295.52" width="38.5" height="6.69" fill="#2cac66"/>
<rect x="1430.3" y="301.61" width="38.5" height="6.69" fill="#29aa68"/>
<rect x="1430.3" y="307.70" width="38.5" height="6.69" fill="#27a86a"/>
<rect x="1430.3" y="313.78" width="38.5" height="6.69" fill="#25a66b"/>
<rect x="1430.3" y="319.87" width="38.5" height="6.69" fill="#23a46d"/>
<rect x="1430.3" y="325.95" width="38.5" height="6.69" fill="#21a26e"/>
<rect x="1430.3" y="332.04" width="38.5" height="6.69" fill="#1fa070"/>
<rect x="1430.3" y="338.12" width="38.5" height="6.69" fill="#1d9e71"/>
<rect x="1430.3" y="344.21" width="38.5" height="6.69" fill="#1c9c72"/>
<rect x="1430.3" y="350.30" width="38.5" height="6.69" fill="#1b9973"/>
<rect x="1430.3" y="356.38" width="38.5" height="6.69" fill="#1a9774"/>
<rect x="1430.3" y="362.47" width="38.5" height="6.69" fill="#199575"/>
<rect x="1430.3" y="368.55" width="38.5" height="6.69" fill="#189376"/>
<rect x="1430.3" y="374.64" width="38.5" height="6.69" fill="#189177"/>
<rect x="1430.3" y="380.73" width="38.5" height="6.69" fill="#178f78"/>
<rect x="1430.3" y="386.81" width="38.5" height="6.69" fill="#178d79"/>
<rect x="1430.3" y="392.90" width="38.5" height="6.69" fill="#178b7a"/>
<rect x="1430.3" y="398.98" width="38.5" height="6.69" fill="#17897a"/>
<rect x="1430.3" y="405.07" width="38.5" height="6.69" fill="#17877b"/>
<rect x="1430.3" y="411.16" width="38.5" height="6.69" fill="#17857b"/>
<rect x="1430.3" y="417.24" width="38.5" height="6.69" fill="#18837c"/>
<rect x="1430.3" y="423.33" width="38.5" height="6.69" fill="#18817c"/>
<rect x="1430.3" y="429.41" width="38.5" height="6.69" fill="#187f7d"/>
<rect x="1430.3" y="435.50" width="38.5" height="6.69" fill="#197d7d"/>
<rect x="1430.3" y="441.59" width="38.5" height="6.69" fill="#197b7e"/>
<rect x="1430.3" y="447.67" width="38.5" height="6.69" fill="#1a797e"/>
<rect x="1430.3" y="453.76" width="38.5" height="6.69" fill="#1a777e"/>
<rect x="1430.3" y="459.84" width="38.5" height="6.69" fill="#1b757e"/>
<rect x="1430.3" y="465.93" width="38.5" height="6.69" fill="#1b737e"/>
<rect x="1430.3" y="472.02" width="38.5" height="6.69" fill="#1c717f"/>
<rect x="1430.3" y="478.10" width="38.5" height="6.69" fill="#1c6f7f"/>
<rect x="1430.3" y="484.19" width="38.5" height="6.69" fill="#1d6d7f"/>
<rect x="1430.3" y="490.27" width="38.5" height="6.69" fill="#1d6c7f"/>
<rect x="1430.3" y="496.36" width="38.5" height="6.69" fill="#1e6a7f"/>
<rect x="1430.3" y="502.45" width="38.5" height="6.69" fill="#1e687f"/>
<rect x="1430.3" y="508.53" width="38.5" height="6.69" fill="#1f667f"/>
<rect x="1430.3" y="514.62" width="38.5" height="6.69" fill="#20647f"/>
<rect x="1430.3" y="520.70" width="38.5" height="6.69" fill="#20627f"/>
<rect x="1430.3" y="526.79" width="38.5" height="6.69" fill="#21607f"/>
<rect x="1430.3" y="532.88" width="38.5" height="6.69" fill="#215e7f"/>
<rect x="1430.3" y="538.96" width="38.5" height="6.69" fill="#225c7f"/>
<rect x="1430.3" y="545.05" width="38.5" height="6.69" fill="#235a7f"/>
<rect x="1430.3" y="551.13" width="38.5" height="6.69" fill="#23597f"/>
<rect x="1430.3" y="557.22" width="38.5" height="6.69" fill="#24577f"/>
<rect x="1430.3" y="563.30" width="38.5" height="6.69" fill="#25557f"/>
<rect x="1430.3" y="569.39" width="38.5" height="6.69" fill="#25537e"/>
<rect x="1430.3" y="575.48" width="38.5" height="6.69" fill="#26517e"/>
<rect x="1430.3" y="581.56" width="38.5" height="6.69" fill="#274f7e"/>
<rect x="1430.3" y="587.65" width="38.5" height="6.69" fill="#274d7e"/>
<rect x="1430.3" y="593.73" width="38.5" height="6.69" fill="#284b7e"/>
<rect x="1430.3" y="599.82" width="38.5" height="6.69" fill="#29497d"/>
<rect x="1430.3" y="605.91" width="38.5" height="6.69" fill="#2a487d"/>
<rect x="1430.3" y="611.99" width="38.5" height="6.69" fill="#2a467d"/>
<rect x="1430.3" y="618.08" width="38.5" height="6.69" fill="#2b447c"/>
<rect x="1430.3" y="624.16" width="38.5" height="6.69" fill="#2c427c"/>
<rect x="1430.3" y="630.25" width="38.5" height="6.69" fill="#2d407c"/>
<rect x="1430.3" y="636.34" width="38.5" height="6.69" fill="#2e3e7b"/>
<rect x="1430.3" y="642.42" width="38.5" height="6.69" fill="#2e3c7a"/>
<rect x="1430.3" y="648.51" width="38.5" height="6.69" fill="#2f3a7a"/>
<rect x="1430.3" y="654.59" width="38.5" height="6.69" fill="#303879"/>
<rect x="1430.3" y="660.68" width="38.5" height="6.69" fill="#313678"/>
<rect x="1430.3" y="666.77" width="38.5" height="6.69" fill="#323478"/>
<rect x="1430.3" y="672.85" width="38.5" height="6.69" fill="#323277"/>
<rect x="1430.3" y="678.94" width="38.5" height="6.69" fill="#333076"/>
<rect x="1430.3" y="685.02" width="38.5" height="6.69" fill="#342e75"/>
<rect x="1430.3" y="691.11" width="38.5" height="6.69" fill="#342c74"/>
<rect x="1430.3" y="697.20" width="38.5" height="6.69" fill="#352a72"/>
<rect x="1430.3" y="703.28" width="38.5" height="6.69" fill="#352871"/>
<rect x="1430.3" y="709.37" width="38.5" height="6.69" fill="#362670"/>
<rect x="1430.3" y="715.45" width="38.5" height="6.69" fill="#36246e"/>
<rect x="1430.3" y="721.54" width="38.5" height="6.69" fill="#37236c"/>
<rect x="1430.3" y="727.62" width="38.5" height="6.69" fill="#37216b"/>
<rect x="1430.3" y="733.71" width="38.5" height="6.69" fill="#371e69"/>
<rect x="1430.3" y="739.80" width="38.5" height="6.69" fill="#381c68"/>
<rect x="1430.3" y="745.88" width="38.5" height="6.69" fill="#381a66"/>
<rect x="1430.3" y="751.97" width="38.5" height="6.69" fill="#381764"/>
<rect x="1430.3" y="758.05" width="38.5" height="6.69" fill="#381562"/>
<rect x="1430.3" y="764.14" width="38.5" height="6.69" fill="#381360"/>
<rect x="1430.3" y="770.23" width="38.5" height="6.69" fill="#38115e"/>
<rect x="1430.3" y="776.31" width="38.5" height="6.69" fill="#380e5c"/>
<rect x="1430.3" y="782.40" width="38.5" height="6.69" fill="#370c5a"/>
<rect x="1430.3" y="788.48" width="38.5" height="6.69" fill="#370a58"/>
<rect x="1430.3" y="794.57" width="38.5" height="6.69" fill="#370856"/>
<rect x="1430.3" y="800.66" width="38.5" height="6.69" fill="#360553"/>
<rect x="1430.3" y="806.74" width="38.5" height="6.69" fill="#360351"/>
<rect x="1430.3" y="812.83" width="38.5" height="6.69" fill="#35014e"/>
<rect x="1430.3" y="818.91" width="38.5" height="6.69" fill="#35004c"/>
</g>
<rect x="1430.3" y="46" width="38.5" height="779" fill="none" stroke="#000" stroke-width="2"/>
<g stroke="#000" stroke-width="2" fill="none">
<path d="M1469 824.8H1489"/>
<path d="M1469 747.0H1489"/>
<path d="M1469 669.3H1489"/>
<path d="M1469 591.5H1489"/>
<path d="M1469 513.8H1489"/>
<path d="M1469 436.0H1489"/>
<path d="M1469 358.3H1489"/>
<path d="M1469 280.5H1489"/>
<path d="M1469 202.8H1489"/>
<path d="M1469 125.0H1489"/>
<path d="M1469 47.3H1489"/>
</g>
<g font-size="32px" text-anchor="middle">
<text transform="translate(1526.1 824.8) rotate(-90)">0.0</text>
<text transform="translate(1526.1 747.0) rotate(-90)">0.1</text>
<text transform="translate(1526.1 669.3) rotate(-90)">0.2</text>
<text transform="translate(1526.1 591.5) rotate(-90)">0.3</text>
<text transform="translate(1526.1 513.8) rotate(-90)">0.4</text>
<text transform="translate(1526.1 436.0) rotate(-90)">0.5</text>
<text transform="translate(1526.1 358.3) rotate(-90)">0.6</text>
<text transform="translate(1526.1 280.5) rotate(-90)">0.7</text>
<text transform="translate(1526.1 202.8) rotate(-90)">0.8</text>
<text transform="translate(1526.1 125.0) rotate(-90)">0.9</text>
<text transform="translate(1526.1 47.3) rotate(-90)">1.0</text>
</g>
</svg>
</body></html>
